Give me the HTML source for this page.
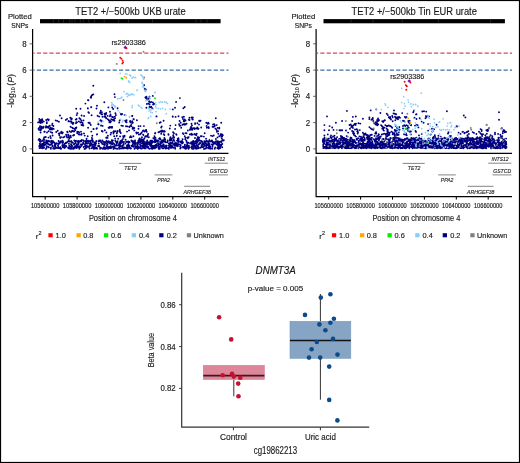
<!DOCTYPE html>
<html><head><meta charset="utf-8"><style>
html,body{margin:0;padding:0;background:#fff;}
svg{display:block;font-family:"Liberation Sans", sans-serif;will-change:transform;}
</style></head><body>
<svg width="520" height="463" viewBox="0 0 520 463" fill="#1a1a1a"><style>text{stroke:currentColor;stroke-width:0.15px;} svg{color:#1a1a1a}</style>
<rect x="0.5" y="0.5" width="519" height="462" fill="#fff" stroke="#000" stroke-width="1.2"/>
<path d="M158.7 148.8h0M219.3 143.8h0M121.5 148.4h0M206.6 125.9h0M59.4 143.6h0M218.8 143.0h0M160.4 144.3h0M95.4 148.2h0M90.5 145.0h0M158.6 140.9h0M110.7 146.1h0M97.1 134.2h0M94.6 144.3h0M145.2 146.8h0M42.7 148.3h0M140.1 148.3h0M155.6 142.1h0M129.5 147.8h0M131.0 148.4h0M213.2 142.3h0M219.7 146.4h0M58.6 141.0h0M92.9 147.9h0M206.1 146.2h0M204.7 133.3h0M193.3 141.2h0M71.7 147.6h0M170.2 146.7h0M50.8 138.0h0M139.8 141.6h0M122.2 146.0h0M86.3 143.4h0M115.5 148.4h0M104.1 147.8h0M86.5 145.6h0M112.6 146.9h0M40.4 144.6h0M158.1 143.0h0M173.2 144.7h0M126.9 145.4h0M141.8 132.5h0M89.5 148.5h0M52.1 141.4h0M68.3 134.8h0M96.2 141.6h0M107.2 142.6h0M148.1 134.0h0M215.2 147.4h0M85.0 144.0h0M178.0 143.1h0M170.6 144.5h0M69.2 148.6h0M219.1 142.4h0M88.1 127.8h0M64.5 136.8h0M160.1 145.1h0M208.6 145.7h0M186.3 147.5h0M98.7 141.1h0M215.1 143.8h0M113.9 146.4h0M84.5 148.9h0M73.8 148.7h0M154.2 141.8h0M76.9 144.3h0M89.1 146.8h0M164.4 138.0h0M217.7 144.7h0M196.0 143.3h0M109.3 148.0h0M187.2 142.5h0M139.1 139.5h0M217.6 144.6h0M144.1 144.6h0M104.5 148.9h0M120.2 146.3h0M112.3 141.3h0M129.3 145.7h0M76.4 146.5h0M148.8 137.3h0M132.8 144.8h0M192.1 142.5h0M220.2 147.4h0M152.8 145.8h0M39.6 145.3h0M113.4 143.1h0M173.7 139.8h0M129.4 142.2h0M158.0 145.4h0M154.5 140.9h0M182.6 139.3h0M188.6 145.9h0M87.6 141.4h0M138.9 141.8h0M127.9 148.5h0M132.6 145.3h0M104.2 148.7h0M132.1 141.2h0M112.8 143.7h0M77.3 141.3h0M88.4 141.8h0M135.0 144.5h0M174.2 143.3h0M169.9 146.8h0M150.9 144.1h0M70.6 135.7h0M99.5 140.7h0M168.7 148.7h0M204.0 146.2h0M118.2 138.8h0M73.8 147.5h0M217.6 141.1h0M172.6 146.7h0M135.6 147.7h0M170.3 142.5h0M83.1 142.8h0M95.1 145.5h0M129.3 147.3h0M49.2 141.3h0M78.7 142.9h0M188.5 142.7h0M101.8 148.1h0M166.1 145.5h0M129.8 147.5h0M81.5 144.8h0M145.4 142.8h0M99.6 141.1h0M221.5 142.1h0M196.4 145.6h0M145.5 145.5h0M200.5 147.8h0M206.7 147.7h0M161.0 145.7h0M62.9 141.7h0M205.3 148.4h0M193.3 146.6h0M60.5 148.7h0M156.0 141.3h0M194.2 145.6h0M154.8 142.2h0M83.6 140.9h0M147.4 143.7h0M141.8 148.4h0M103.8 147.2h0M200.5 143.2h0M169.9 140.5h0M177.0 140.6h0M66.7 136.2h0M195.4 148.1h0M188.2 145.7h0M219.7 144.4h0M120.4 145.5h0M168.9 148.7h0M135.2 142.1h0M54.7 145.6h0M173.4 147.8h0M184.8 136.2h0M94.7 146.8h0M141.2 146.0h0M182.8 143.1h0M58.2 145.1h0M220.3 141.8h0M167.7 141.2h0M191.6 147.6h0M107.0 148.1h0M102.4 148.5h0M188.5 146.2h0M93.7 146.1h0M176.4 144.4h0M66.3 146.3h0M99.1 140.5h0M127.0 131.6h0M216.9 131.8h0M208.2 148.0h0M135.1 140.4h0M182.9 142.5h0M105.3 142.1h0M112.9 140.5h0M136.6 147.6h0M165.1 141.2h0M72.9 142.7h0M48.2 144.2h0M87.8 146.7h0M155.0 148.2h0M52.4 142.1h0M70.8 148.8h0M106.5 140.8h0M91.1 142.9h0M197.8 145.3h0M163.0 140.8h0M185.5 137.8h0M222.2 147.2h0M176.0 144.2h0M128.4 141.4h0M185.1 148.6h0M195.2 147.3h0M93.9 148.9h0M61.0 141.3h0M176.0 143.8h0M144.0 144.4h0M138.5 128.8h0M113.9 146.3h0M94.4 143.9h0M139.9 147.7h0M155.8 140.1h0M142.8 145.5h0M210.9 141.6h0M203.9 136.6h0M109.4 142.1h0M107.4 144.6h0M100.8 147.9h0M104.1 148.7h0M70.6 141.6h0M147.2 140.4h0M86.3 142.6h0M165.9 142.3h0M128.1 144.7h0M217.3 148.1h0M62.8 147.2h0M43.8 144.8h0M213.7 142.7h0M192.1 143.7h0M221.7 144.3h0M102.6 125.9h0M57.9 145.3h0M162.2 146.6h0M90.2 142.1h0M196.4 141.5h0M55.0 143.2h0M93.0 141.2h0M60.3 148.2h0M109.9 147.4h0M134.6 141.3h0M221.0 144.7h0M203.2 147.1h0M178.4 144.7h0M40.6 141.9h0M208.9 146.9h0M138.2 142.4h0M193.6 146.6h0M168.6 147.8h0M74.8 143.8h0M215.2 143.7h0M66.3 146.5h0M166.6 147.1h0M106.5 146.0h0M150.2 141.4h0M166.4 148.4h0M98.8 143.4h0M188.0 146.4h0M129.6 147.8h0M64.7 148.1h0M137.9 144.1h0M164.7 147.2h0M143.1 145.3h0M39.8 146.3h0M151.9 147.0h0M163.9 146.2h0M149.3 148.7h0M99.5 146.8h0M180.3 148.5h0M53.2 148.2h0M97.2 148.5h0M44.7 145.5h0M210.3 146.8h0M163.7 144.5h0M98.1 146.0h0M186.5 141.7h0M150.2 145.5h0M163.6 144.4h0M142.6 145.5h0M203.8 144.2h0M48.9 147.4h0M78.5 144.2h0M85.0 144.4h0M125.8 148.0h0M107.5 144.3h0M139.0 140.5h0M164.6 146.3h0M164.2 141.1h0M65.0 147.3h0M193.4 146.2h0M202.1 141.6h0M109.0 147.9h0M149.3 143.2h0M185.7 148.8h0M213.8 142.1h0M108.6 141.4h0M123.3 142.9h0M116.5 145.5h0M150.2 144.9h0M45.9 148.9h0M46.7 147.7h0M132.2 146.6h0M219.5 141.9h0M186.2 147.1h0M187.3 144.1h0M104.6 142.3h0M207.1 141.4h0M102.5 140.4h0M180.7 145.2h0M108.1 141.9h0M119.9 143.5h0M134.2 143.2h0M202.6 143.4h0M128.4 142.8h0M217.9 141.2h0M109.3 147.6h0M170.5 146.0h0M217.0 142.2h0M123.6 144.7h0M180.9 147.5h0M119.9 144.0h0M209.1 147.8h0M108.0 148.7h0M52.7 142.4h0M161.4 146.7h0M67.5 137.4h0M212.7 145.5h0M155.3 132.9h0M137.7 148.9h0M186.5 133.3h0M160.5 146.9h0M181.2 127.7h0M71.2 144.5h0M117.4 130.9h0M172.0 143.0h0M158.9 146.8h0M182.0 143.4h0M110.0 143.4h0M126.9 147.1h0M41.2 146.4h0M90.0 143.8h0M220.0 146.2h0M137.1 144.6h0M115.6 145.5h0M110.4 141.9h0M105.1 144.1h0M194.0 142.5h0M173.1 147.7h0M85.8 146.5h0M124.8 147.8h0M85.4 142.1h0M137.6 145.2h0M199.0 144.2h0M110.8 143.6h0M53.2 148.5h0M176.0 143.1h0M147.4 144.3h0M52.6 145.6h0M91.4 140.5h0M104.5 147.2h0M169.2 144.3h0M55.3 147.4h0M124.0 142.0h0M147.7 142.5h0M85.8 141.8h0M96.9 128.3h0M154.5 141.6h0M155.2 147.1h0M132.2 141.2h0M168.9 145.7h0M208.4 142.8h0M85.7 147.9h0M76.0 145.8h0M127.5 146.6h0M156.2 141.0h0M131.3 126.3h0M180.1 146.6h0M56.9 148.0h0M141.7 148.5h0M78.3 143.8h0M208.6 148.3h0M163.4 145.3h0M120.1 143.0h0M73.9 144.4h0M75.2 141.4h0M219.1 148.5h0M205.2 141.8h0M71.4 141.2h0M91.4 144.6h0M220.8 145.6h0M221.2 136.8h0M157.6 141.2h0M125.4 143.6h0M206.0 145.3h0M147.0 147.6h0M147.1 146.8h0M197.7 139.1h0M115.2 138.6h0M144.6 144.0h0M41.6 146.2h0M106.6 143.5h0M145.9 143.5h0M194.5 144.6h0M187.7 147.5h0M98.6 141.2h0M66.2 146.2h0M195.3 148.6h0M50.6 141.9h0M87.7 143.6h0M144.3 148.3h0M70.3 146.9h0M54.3 142.7h0M87.2 146.5h0M127.2 146.5h0M199.3 137.6h0M52.8 141.0h0M196.7 145.1h0M105.8 148.7h0M96.9 134.6h0M46.5 143.2h0M199.2 140.6h0M75.2 147.8h0M146.7 146.6h0M75.0 140.7h0M100.5 140.5h0M79.3 148.8h0M219.1 146.7h0M140.3 142.4h0M54.5 148.7h0M135.9 146.4h0M129.0 145.6h0M158.9 147.3h0M164.6 140.9h0M117.2 148.7h0M42.8 143.6h0M160.9 145.2h0M168.9 148.3h0M116.1 142.0h0M213.7 143.5h0M140.0 144.8h0M163.9 141.6h0M121.6 141.8h0M163.0 144.1h0M186.8 146.7h0M95.9 148.5h0M123.0 147.2h0M120.5 141.0h0M166.8 145.6h0M119.3 145.9h0M183.0 142.5h0M175.2 148.8h0M101.1 142.2h0M198.7 148.2h0M61.0 142.1h0M62.6 140.7h0M150.5 140.7h0M167.6 142.4h0M131.5 145.8h0M92.9 144.4h0M123.7 148.4h0M75.5 142.7h0M152.3 146.8h0M111.4 147.6h0M220.6 135.0h0M39.3 146.3h0M130.4 148.6h0M107.0 141.4h0M133.2 143.7h0M146.1 144.2h0M89.7 146.2h0M54.9 144.6h0M198.7 139.8h0M220.6 145.7h0M81.3 144.5h0M132.8 141.0h0M218.6 148.9h0M50.3 136.3h0M51.1 144.3h0M100.1 148.8h0M77.8 146.4h0M140.0 146.9h0M77.7 147.1h0M140.9 146.1h0M113.6 147.3h0M156.5 147.3h0M71.4 148.2h0M184.9 147.9h0M191.9 148.5h0M91.5 143.9h0M120.2 141.7h0M60.9 142.5h0M60.3 137.9h0M79.3 146.7h0M116.6 148.6h0M85.2 145.9h0M122.4 141.8h0M151.9 145.7h0M117.2 141.8h0M200.0 142.8h0M59.9 142.1h0M201.5 141.0h0M209.8 145.9h0M122.7 145.5h0M125.5 147.8h0M69.8 141.5h0M169.5 145.0h0M154.1 148.2h0M151.3 143.4h0M70.5 146.5h0M117.6 141.3h0M207.2 141.3h0M51.7 144.3h0M219.8 147.5h0M104.3 144.2h0M198.7 138.9h0M154.1 146.0h0M61.1 148.7h0M88.7 140.7h0M77.6 141.7h0M99.0 145.8h0M48.1 141.0h0M40.3 147.7h0M106.7 147.9h0M80.9 144.5h0M204.3 141.2h0M138.4 141.5h0M145.6 144.5h0M104.3 148.3h0M76.7 148.0h0M77.2 145.8h0M48.0 143.7h0M163.4 148.3h0M157.1 146.0h0M144.5 141.6h0M219.8 146.2h0M127.1 148.5h0M106.3 147.7h0M51.5 142.6h0M143.1 142.8h0M202.4 144.8h0M115.3 148.4h0M159.8 148.8h0M72.1 146.2h0M192.1 146.3h0M128.5 146.6h0M155.3 145.2h0M209.1 145.9h0M159.0 144.0h0M150.7 146.1h0M103.5 144.4h0M143.0 145.6h0M121.4 125.6h0M83.6 147.0h0M175.0 144.6h0M143.6 141.1h0M184.9 144.7h0M41.4 144.1h0M175.2 143.9h0M48.5 137.6h0M119.3 143.2h0M94.7 142.4h0M104.5 145.1h0M191.8 143.4h0M217.0 144.7h0M40.5 141.4h0M49.9 144.5h0M220.2 148.0h0M87.1 146.3h0M72.1 142.6h0M95.5 145.2h0M123.0 147.4h0M152.0 143.0h0M183.5 147.6h0M40.2 148.1h0M108.7 142.6h0M152.4 141.9h0M120.2 148.5h0M171.5 145.6h0M120.4 145.1h0M195.5 147.2h0M218.0 145.6h0M206.5 147.6h0M148.7 142.3h0M141.1 148.5h0M209.3 141.6h0M120.0 148.2h0M48.9 141.0h0M124.4 147.5h0M138.3 141.3h0M175.0 147.6h0M65.8 142.7h0M80.3 147.3h0M122.3 148.2h0M57.9 147.6h0M107.7 146.5h0M41.6 145.1h0M174.9 143.9h0M96.5 147.6h0M128.8 145.0h0M137.7 146.2h0M190.2 143.5h0M155.6 146.4h0M147.7 144.8h0M111.3 147.0h0M83.2 143.8h0M84.0 133.4h0M178.4 140.8h0M102.2 143.8h0M160.2 142.2h0M195.6 147.0h0M111.9 143.2h0M71.2 141.2h0M215.1 142.2h0M193.1 148.3h0M151.2 142.8h0M92.9 142.0h0M56.1 147.6h0M136.9 120.3h0M177.3 145.2h0M138.5 142.9h0M217.6 147.4h0M68.1 147.8h0M216.7 143.9h0M62.8 146.0h0M184.7 146.2h0M64.2 147.4h0M82.1 144.7h0M208.3 144.3h0M142.6 145.8h0M64.3 146.1h0M50.9 144.4h0M201.8 147.1h0M205.7 142.9h0M46.7 147.5h0M185.3 139.2h0M59.2 148.0h0M170.9 144.0h0M158.6 147.7h0M107.2 142.5h0M114.5 144.2h0M76.8 146.9h0M42.8 145.0h0M152.2 148.4h0M188.6 148.8h0M117.9 145.4h0M196.8 143.3h0M205.2 143.1h0M47.7 143.0h0M135.0 145.9h0M193.4 143.4h0M119.1 148.7h0M62.8 144.9h0M43.9 142.1h0M218.9 144.9h0M149.6 144.3h0M162.7 142.1h0M139.0 141.1h0M135.0 142.6h0M119.3 143.8h0M197.9 148.1h0M58.4 148.1h0M159.0 144.5h0M206.2 146.3h0M151.2 144.1h0M110.9 143.8h0M89.8 145.2h0M88.3 146.4h0M217.2 144.3h0M88.3 142.9h0M122.6 147.3h0M132.6 142.4h0M161.3 143.0h0M148.5 143.5h0M95.2 147.6h0M217.5 137.4h0M86.6 138.7h0M138.3 148.0h0M222.1 136.4h0M120.8 133.0h0M138.5 140.6h0M137.7 142.5h0M50.9 148.8h0M87.8 141.2h0M142.8 143.0h0M150.1 143.0h0M209.3 143.7h0M136.2 143.1h0M73.5 147.9h0M46.8 146.3h0M183.0 147.6h0M197.8 145.9h0M165.6 146.6h0M63.7 146.8h0M196.1 140.9h0M43.0 146.5h0M126.1 142.0h0M73.0 148.7h0M155.8 145.2h0M194.8 145.9h0M206.1 138.7h0M81.1 145.9h0M198.2 147.0h0M86.3 140.5h0M134.6 143.1h0M203.9 148.9h0M96.3 141.0h0M221.8 138.4h0M165.5 148.6h0M180.0 141.5h0M63.2 142.1h0M201.6 145.2h0M133.7 146.8h0M144.5 145.8h0M157.0 141.3h0M118.5 145.3h0M177.5 140.8h0M65.0 146.4h0M152.1 147.2h0M88.8 146.6h0M191.3 142.2h0M67.1 142.2h0M212.1 148.7h0M160.3 139.2h0M122.3 146.7h0M186.4 140.6h0M44.1 147.8h0M179.6 144.5h0M193.4 148.7h0M186.4 148.2h0M162.5 148.3h0M151.1 148.5h0M52.4 146.3h0M95.5 143.6h0M195.1 147.7h0M154.2 147.0h0M149.7 142.3h0M167.7 140.4h0M191.6 146.3h0M39.9 141.4h0M183.0 146.8h0M68.6 147.2h0M69.3 141.1h0M195.8 146.2h0M205.7 148.6h0M78.6 141.0h0M96.0 143.5h0M132.9 145.0h0M54.3 146.9h0M135.1 144.2h0M40.8 144.9h0M138.2 146.8h0M78.3 141.1h0M87.5 146.4h0M44.3 142.2h0M218.4 148.2h0M122.0 146.8h0M198.6 147.2h0M205.3 143.0h0M161.6 140.5h0M44.3 144.8h0M192.7 148.8h0M64.4 147.7h0M206.7 144.3h0M74.8 146.5h0M86.5 141.4h0M136.3 146.5h0M72.0 145.5h0M204.5 148.7h0M48.5 147.0h0M111.8 140.3h0M147.9 135.0h0M50.9 147.8h0M114.4 146.6h0M47.1 142.9h0M214.7 148.7h0M143.5 144.5h0M136.9 148.1h0M127.2 141.7h0M202.1 142.1h0M192.9 143.9h0M126.1 141.9h0M142.9 130.9h0M217.0 141.4h0M50.6 144.8h0M133.0 141.9h0M145.9 145.1h0M211.8 140.4h0M142.9 143.6h0M58.5 143.8h0M186.8 145.3h0M146.6 142.4h0M204.2 142.4h0M212.3 144.5h0M202.0 146.5h0M147.2 136.7h0M62.8 143.0h0M170.4 144.5h0M109.4 147.0h0M91.6 148.2h0M153.7 147.0h0M174.8 145.7h0M155.8 144.9h0M187.3 143.2h0M191.9 144.1h0M210.2 148.7h0M45.7 144.3h0M152.4 148.8h0M199.4 140.6h0M102.5 140.7h0M43.2 145.5h0M221.3 145.5h0M71.0 144.3h0M152.8 141.7h0M79.8 141.5h0M217.2 141.7h0M150.1 145.4h0M132.8 146.0h0M208.8 141.8h0M176.6 145.2h0M192.3 144.6h0M131.4 140.4h0M176.3 145.9h0M168.9 143.6h0M91.5 144.2h0M201.6 147.0h0M42.7 146.7h0M199.9 140.4h0M185.9 148.8h0M189.6 147.6h0M109.5 148.1h0M139.8 142.2h0M49.6 144.9h0M175.1 143.8h0M59.3 135.3h0M210.8 148.2h0M189.0 145.9h0M117.4 142.7h0M119.0 147.6h0M48.7 126.4h0M51.3 140.6h0M144.7 147.9h0M171.0 148.1h0M76.5 147.2h0M152.1 140.7h0M180.9 141.6h0M64.4 144.7h0M168.2 148.3h0M106.6 141.1h0M120.4 145.3h0M196.7 133.7h0M53.9 142.3h0M207.4 144.9h0M71.3 148.7h0M90.1 145.5h0M138.4 140.6h0M207.9 145.6h0M58.3 146.8h0M172.3 143.0h0M43.9 143.5h0M92.3 135.8h0M205.2 145.1h0M146.3 146.4h0M201.1 141.1h0M178.3 142.0h0M121.0 143.3h0M116.7 136.1h0M221.5 141.1h0M181.2 142.4h0M102.9 148.6h0M209.4 144.1h0M151.4 147.7h0M143.6 143.2h0M218.2 143.1h0M182.0 140.9h0M114.6 147.4h0M111.1 132.7h0M204.1 144.6h0M156.9 140.7h0M111.1 142.7h0M186.5 147.8h0M155.3 146.6h0M85.9 147.9h0M162.3 148.2h0M212.7 142.2h0M46.6 141.9h0M56.7 143.3h0M47.0 141.9h0M59.9 133.1h0M217.9 141.9h0M68.2 141.4h0M197.8 141.8h0M112.0 142.1h0M161.6 141.6h0M209.8 148.6h0M41.8 148.1h0M55.0 148.6h0M90.6 140.9h0M212.7 144.9h0M60.5 147.2h0M156.7 144.2h0M201.5 145.9h0M169.2 145.2h0M162.3 145.7h0M178.4 141.0h0M64.8 143.7h0M81.2 146.0h0M62.3 145.2h0M153.5 148.4h0M93.2 147.2h0M77.2 147.1h0M180.7 142.4h0M55.6 146.8h0M79.2 147.7h0M161.4 141.7h0M185.3 146.6h0M192.7 142.5h0M143.0 147.0h0M208.4 142.9h0M41.9 140.9h0M185.6 146.7h0M205.7 143.0h0M165.3 142.0h0M73.8 131.2h0M101.2 142.1h0M102.0 143.0h0M212.5 146.8h0M103.8 142.0h0M194.0 144.9h0M102.5 148.7h0M148.1 147.7h0M177.4 143.9h0M194.6 143.6h0M51.5 143.9h0M193.5 140.9h0M129.6 142.2h0M207.9 141.8h0M78.4 144.1h0M45.6 142.2h0M85.1 146.3h0M63.5 146.2h0M90.0 141.1h0M144.5 146.6h0M92.2 146.2h0M66.3 143.1h0M211.6 144.4h0M69.9 148.6h0M146.0 146.4h0M135.0 145.4h0M59.0 142.9h0M62.7 146.8h0M104.0 142.8h0M134.5 148.7h0M120.4 142.0h0M175.9 142.6h0M77.4 146.7h0M69.3 145.6h0M214.2 143.3h0M108.7 141.1h0M222.3 143.9h0M128.4 144.5h0M55.3 145.5h0M159.1 147.1h0M212.9 144.5h0M52.3 143.1h0M79.0 146.7h0M86.7 143.6h0M177.7 146.3h0M93.6 147.4h0M85.7 148.5h0M112.3 144.6h0M39.5 148.1h0M68.7 148.3h0M182.2 143.4h0M136.4 147.3h0M113.5 148.9h0M115.3 140.7h0M192.9 141.1h0M111.6 147.5h0M55.8 144.3h0M195.4 147.3h0M148.3 147.0h0M92.7 140.6h0M66.0 145.8h0M172.0 147.0h0M196.8 148.7h0M79.1 146.1h0M68.9 143.7h0M110.2 143.5h0M107.9 135.8h0M171.0 146.5h0M195.2 141.6h0M152.3 146.5h0M196.3 147.6h0M145.4 148.4h0M86.7 147.4h0M197.4 146.0h0M39.8 143.6h0M182.9 133.2h0M116.7 143.7h0M128.2 145.2h0M110.9 148.3h0M172.4 141.1h0M143.3 147.8h0M199.3 143.7h0M59.7 143.0h0M109.4 147.0h0M41.0 121.3h0M39.3 122.3h0M38.1 122.4h0M48.5 120.2h0M47.7 119.3h0M48.8 119.7h0M46.2 120.0h0M39.7 127.8h0M38.5 128.7h0M40.9 119.9h0M42.5 120.7h0M39.3 119.0h0M41.5 120.0h0M40.9 126.7h0M39.4 127.6h0M91.9 137.9h0M92.4 139.1h0M79.1 132.5h0M79.7 134.5h0M81.4 134.7h0M81.7 134.0h0M72.6 130.9h0M72.1 131.3h0M72.0 130.9h0M74.3 131.4h0M45.8 137.0h0M44.4 137.2h0M78.7 134.4h0M50.4 129.6h0M52.0 129.6h0M50.6 127.7h0M51.0 129.1h0M68.6 135.5h0M66.1 134.8h0M67.1 137.5h0M66.4 135.2h0M88.7 140.7h0M87.9 141.4h0M86.5 140.8h0M52.6 135.5h0M92.4 140.6h0M92.3 140.6h0M92.3 140.3h0M70.9 137.2h0M69.3 136.9h0M69.0 137.3h0M91.3 131.6h0M40.9 129.9h0M40.3 130.2h0M39.0 129.7h0M68.6 140.1h0M69.4 138.6h0M81.2 140.4h0M80.7 140.7h0M81.2 141.2h0M81.8 139.9h0M44.0 139.7h0M44.0 137.9h0M44.5 139.9h0M42.6 140.7h0M40.9 128.9h0M41.6 128.8h0M74.3 140.5h0M72.2 142.1h0M76.1 140.9h0M62.8 132.6h0M61.4 131.6h0M62.4 133.3h0M62.0 132.5h0M83.4 140.4h0M85.9 142.8h0M85.0 141.3h0M87.7 141.2h0M87.7 136.2h0M84.7 135.6h0M57.7 130.8h0M56.2 132.0h0M39.2 138.9h0M40.4 139.8h0M38.6 139.9h0M39.1 140.0h0M93.4 128.9h0M93.7 129.1h0M73.1 135.5h0M74.1 135.0h0M61.1 137.1h0M63.1 137.4h0M60.2 137.2h0M46.5 140.5h0M43.6 139.2h0M82.5 122.6h0M80.9 122.4h0M82.8 123.9h0M71.8 119.0h0M71.7 118.5h0M71.2 119.2h0M71.5 119.5h0M75.7 119.6h0M76.6 119.0h0M76.5 119.2h0M76.3 119.6h0M81.4 120.8h0M52.2 125.0h0M53.4 126.0h0M49.8 125.7h0M88.5 122.8h0M89.7 122.7h0M89.8 123.4h0M90.8 124.9h0M75.8 127.8h0M76.4 127.5h0M76.0 128.3h0M113.9 131.9h0M113.7 132.2h0M115.3 131.3h0M113.8 131.3h0M96.5 128.7h0M126.6 122.3h0M110.6 134.4h0M113.5 133.6h0M110.6 134.5h0M105.0 115.0h0M101.8 131.0h0M102.6 131.5h0M125.2 120.7h0M126.6 120.2h0M126.3 120.6h0M130.2 120.9h0M119.8 129.6h0M119.6 130.9h0M117.4 131.2h0M116.8 133.3h0M117.3 132.0h0M113.2 132.0h0M107.6 115.9h0M104.5 113.7h0M101.6 114.2h0M102.1 114.3h0M100.1 113.3h0M120.1 132.0h0M119.9 131.0h0M119.4 131.0h0M110.4 122.4h0M109.4 122.2h0M111.0 121.3h0M114.4 120.7h0M109.7 120.4h0M112.8 119.7h0M123.7 137.5h0M123.1 136.1h0M123.4 137.2h0M111.3 119.1h0M120.1 136.4h0M124.7 136.0h0M98.6 124.2h0M98.2 124.2h0M101.0 125.5h0M114.2 136.2h0M106.2 112.9h0M105.7 113.9h0M106.0 114.1h0M100.4 120.5h0M100.7 120.3h0M101.7 121.0h0M127.5 126.4h0M126.0 126.2h0M122.9 125.9h0M124.5 135.8h0M124.6 114.9h0M126.0 122.0h0M115.0 118.2h0M108.6 127.7h0M110.2 127.3h0M110.7 127.2h0M112.2 126.9h0M125.6 139.8h0M116.8 135.7h0M106.2 137.7h0M106.6 137.4h0M107.6 137.9h0M109.7 127.8h0M109.7 126.9h0M112.0 127.8h0M111.2 127.0h0M106.4 132.5h0M104.8 130.3h0M121.4 114.5h0M121.0 113.9h0M120.9 114.3h0M122.1 114.0h0M102.5 116.8h0M104.5 116.8h0M105.8 117.5h0M112.3 117.0h0M109.9 116.2h0M110.7 115.9h0M122.7 139.3h0M122.1 139.9h0M173.5 137.1h0M162.9 140.3h0M164.7 140.4h0M164.7 139.8h0M164.4 139.2h0M165.2 139.4h0M147.0 141.2h0M151.2 142.3h0M151.6 140.8h0M173.1 132.3h0M174.0 133.3h0M176.5 134.8h0M161.2 133.7h0M161.9 131.7h0M173.1 137.3h0M173.9 136.9h0M141.9 140.7h0M141.9 139.9h0M170.7 138.4h0M170.4 138.7h0M171.9 138.8h0M174.0 137.8h0M170.2 138.2h0M170.5 137.2h0M153.3 138.1h0M154.5 139.4h0M155.6 137.9h0M141.3 140.3h0M139.9 138.7h0M155.0 133.4h0M129.9 137.2h0M133.4 136.3h0M130.7 136.3h0M131.5 137.2h0M176.1 134.1h0M173.2 135.3h0M141.2 143.5h0M139.1 142.8h0M140.9 141.8h0M142.6 142.1h0M143.1 134.6h0M143.4 135.1h0M177.7 138.7h0M178.4 138.2h0M178.7 139.1h0M177.8 139.4h0M138.9 134.6h0M140.2 134.2h0M140.7 133.7h0M140.9 133.6h0M145.6 136.2h0M147.2 135.8h0M145.2 136.7h0M143.4 139.7h0M144.4 138.5h0M141.1 139.4h0M144.2 138.7h0M154.7 137.5h0M154.5 136.2h0M159.1 138.7h0M159.9 138.3h0M140.2 141.0h0M138.1 132.8h0M136.9 132.7h0M136.3 132.4h0M136.6 133.5h0M157.6 140.4h0M157.6 140.5h0M156.9 140.3h0M155.7 140.2h0M163.8 134.3h0M168.5 134.8h0M168.4 134.1h0M164.4 135.1h0M169.9 139.5h0M169.8 140.0h0M171.2 140.0h0M174.3 140.9h0M139.5 138.4h0M142.0 137.3h0M141.7 139.1h0M132.9 127.4h0M133.0 128.7h0M132.6 128.7h0M146.7 131.8h0M144.5 131.6h0M145.8 130.9h0M144.7 131.1h0M143.3 130.5h0M146.2 129.9h0M145.4 130.4h0M199.0 124.6h0M199.1 120.9h0M199.9 121.3h0M199.2 120.8h0M200.6 120.6h0M187.8 138.2h0M187.5 137.8h0M187.4 137.6h0M188.7 137.1h0M190.4 129.5h0M191.7 129.6h0M189.9 129.7h0M187.9 130.5h0M185.4 124.3h0M184.0 124.0h0M184.9 124.7h0M182.8 124.7h0M198.7 138.0h0M198.2 137.2h0M197.7 137.3h0M197.4 123.3h0M195.1 123.9h0M195.1 123.3h0M192.2 119.0h0M192.8 119.5h0M188.9 119.7h0M189.5 120.0h0M197.7 140.6h0M196.9 139.3h0M199.0 139.4h0M194.7 133.9h0M192.8 134.5h0M196.3 135.2h0M195.0 134.6h0M191.5 134.7h0M191.4 133.7h0M189.8 134.4h0M190.5 128.2h0M192.2 129.8h0M192.0 128.2h0M184.3 121.4h0M183.8 120.6h0M183.7 121.3h0M180.5 125.6h0M179.6 125.8h0M182.5 124.7h0M193.6 128.3h0M196.1 128.5h0M194.4 128.1h0M194.5 129.0h0M185.4 133.1h0M192.8 117.4h0M189.5 117.8h0M191.7 117.4h0M183.4 134.1h0M198.1 129.0h0M196.2 128.6h0M198.5 128.6h0M197.6 128.4h0M195.0 138.0h0M211.0 135.6h0M213.7 135.5h0M212.4 136.1h0M219.2 136.3h0M201.8 136.3h0M200.7 136.1h0M218.3 133.7h0M216.1 141.3h0M206.4 141.0h0M209.4 140.1h0M209.3 140.2h0M209.0 141.3h0M215.9 139.0h0M216.4 129.6h0M217.1 130.9h0M218.1 131.1h0M212.0 140.8h0M211.1 140.9h0M212.2 141.1h0M220.8 134.3h0M221.8 134.3h0M222.8 135.3h0M222.2 135.6h0M223.8 140.2h0M222.6 140.3h0M223.2 140.6h0M222.5 140.2h0M153.1 104.5h0M154.0 103.6h0M154.1 103.9h0M153.7 104.1h0M146.7 97.8h0M145.4 97.5h0M146.1 98.2h0M149.5 96.8h0M150.8 107.1h0M149.5 106.9h0M150.2 107.3h0M149.2 98.3h0M148.9 98.4h0M148.4 99.1h0M93.3 85.8h0M92.2 95.0h0M93.3 94.4h0M91.1 97.7h0M87.9 100.1h0M85.4 103.6h0M114.5 94.2h0M114.9 97.1h0M104.3 102.3h0M97.0 105.8h0M91.1 107.2h0M87.9 108.5h0M108.4 107.4h0M112.2 107.4h0M113.2 109.0h0M117.6 108.3h0M100.8 110.6h0M101.9 112.3h0M100.3 112.3h0M101.4 113.9h0M96.5 108.5h0M88.4 112.3h0M84.1 116.0h0M91.6 115.2h0M97.6 115.8h0M99.2 116.6h0M105.1 116.6h0M106.2 118.2h0M107.8 119.3h0M108.9 120.4h0M110.0 111.7h0M110.5 114.4h0M110.0 116.0h0M115.4 113.3h0M115.9 115.0h0M114.9 116.6h0M113.2 117.1h0M114.3 118.7h0M113.2 120.4h0M119.7 120.4h0M119.2 122.5h0M132.1 116.0h0M83.5 120.4h0M42.2 119.3h0M40.0 122.0h0M40.6 123.0h0M60.0 115.5h0M61.6 118.2h0M55.7 120.4h0M57.3 120.9h0M58.9 121.7h0M52.4 123.6h0M70.3 117.7h0M68.6 120.9h0M70.3 121.4h0M71.9 122.5h0M73.5 123.0h0M76.2 108.7h0M80.5 108.7h0M77.3 113.3h0M76.7 115.0h0M81.6 115.5h0M79.4 118.2h0M80.5 119.3h0M78.9 121.4h0M80.5 122.5h0M88.4 100.2h0M91.3 96.2h0M90.7 97.3h0M87.8 108.3h0M91.3 107.1h0M89.0 112.9h0M144.2 85.1h0M144.7 88.9h0M145.3 90.0h0M145.8 89.4h0M146.4 96.8h0M152.8 95.9h0M147.4 99.7h0M149.1 101.3h0M150.1 102.4h0M151.2 101.9h0M152.8 102.4h0M148.5 103.5h0M146.9 104.0h0M149.6 104.6h0M151.2 106.7h0M152.3 108.3h0M146.4 107.8h0M176.1 101.9h0M175.0 107.8h0M172.8 109.4h0M156.6 116.4h0M172.8 116.7h0M132.3 115.9h0M133.4 119.1h0M179.9 98.1h0M183.4 108.3h0M184.7 107.0h0M178.5 116.2h0M182.3 117.3h0M183.9 116.7h0M182.9 118.9h0M184.5 119.4h0M185.6 120.5h0M179.6 121.0h0M180.7 122.7h0M179.1 124.3h0M186.6 123.7h0M191.5 123.7h0M192.0 125.4h0M191.0 127.0h0M197.4 127.5h0M201.2 127.5h0M215.8 118.3h0M221.2 122.7h0M130.0 121.7h0M130.9 122.2h0M132.3 121.3h0M132.8 122.7h0M131.4 124.1h0M130.4 125.6h0M129.4 127.0h0M133.8 119.3h0M132.3 116.0h0M134.3 128.0h0M134.3 130.4h0M129.0 130.4h0M138.6 126.1h0M140.5 126.1h0M143.9 126.1h0M156.4 116.4h0M159.7 122.7h0M160.7 122.2h0M163.6 120.8h0M161.7 126.5h0M161.2 127.5h0M172.7 116.4h0M175.6 116.9h0M170.3 125.6h0M175.6 125.1h0M169.8 128.5h0M175.1 128.9h0M207.7 123.7h0M208.8 123.5h0M214.3 124.3h0M206.3 122.7h0M214.8 125.4h0M214.6 126.3h0M216.7 125.1h0M213.1 124.5h0M208.2 122.6h0M208.7 127.5h0M208.6 126.9h0M212.6 126.8h0M219.3 128.5h0M208.8 128.1h0M206.9 127.8h0M217.6 127.9h0M219.3 127.8h0M215.4 128.6h0M213.7 126.9h0M160.7 131.2h0M159.7 131.7h0M164.8 131.5h0M163.5 131.5h0M162.0 130.5h0M158.5 132.2h0M164.0 130.9h0M47.9 127.5h0M48.3 126.6h0M48.0 127.2h0M46.3 127.0h0M53.7 128.9h0M52.7 128.4h0M52.1 128.1h0M45.6 127.5h0M48.0 127.2h0M46.8 126.6h0M48.0 127.3h0M46.0 126.3h0M41.8 128.1h0M49.8 129.2h0M43.1 127.9h0M40.0 126.2h0M48.6 127.7h0M47.1 127.4h0M41.5 126.7h0M43.2 127.5h0M43.5 126.7h0M43.8 121.6h0M41.6 121.7h0M42.2 122.6h0M39.6 120.8h0M46.8 123.3h0M46.8 122.3h0M61.8 133.2h0M44.7 131.7h0M52.2 132.7h0M40.6 132.5h0M59.0 133.7h0M47.0 132.5h0M48.6 131.2h0M58.7 133.6h0M61.2 132.5h0M59.6 133.4h0M50.8 132.1h0M44.3 131.7h0M67.2 131.7h0M69.6 131.2h0M81.0 131.8h0M67.6 132.4h0M78.7 132.0h0M77.2 133.2h0M71.0 132.1h0M73.8 131.4h0M77.3 131.8h0M72.9 124.1h0M71.2 121.7h0M68.5 121.4h0M71.4 122.8h0M67.1 118.9h0M65.8 119.9h0M72.7 122.6h0M73.3 128.4h0M72.2 127.6h0M70.6 126.7h0M75.3 130.1h0M74.7 128.7h0M72.9 128.3h0M81.5 125.0h0M82.8 125.2h0M76.0 123.2h0M76.3 122.2h0M83.3 125.5h0M77.0 122.2h0" stroke="#000080" stroke-width="1.9" stroke-linecap="round"/>
<path d="M116.8 63.9h0M123.5 100.0h0M144.2 77.5h0M156.8 123.2h0" stroke="#808080" stroke-width="1.9" stroke-linecap="round"/>
<path d="M124.0 91.7h0M126.7 93.4h0M129.4 95.0h0M131.1 94.4h0M132.1 93.9h0M117.6 98.8h0M119.2 98.5h0M120.8 98.2h0M121.9 97.1h0M111.6 102.5h0M112.2 104.2h0M113.2 104.7h0M114.3 105.8h0M115.4 106.3h0M114.9 107.4h0M111.6 105.2h0M127.3 96.6h0M129.4 82.0h0M130.5 75.5h0M132.1 78.2h0M118.1 110.6h0M119.7 112.3h0M125.1 115.0h0M126.2 115.5h0M120.8 119.3h0M123.0 120.4h0M122.4 122.0h0M129.4 117.1h0M132.1 107.4h0M98.1 122.0h0M103.0 121.4h0M101.4 122.5h0M129.6 74.9h0M130.7 75.9h0M132.3 78.1h0M133.4 77.0h0M135.6 77.6h0M141.0 74.9h0M142.0 75.9h0M143.1 77.0h0M143.7 79.2h0M128.5 80.8h0M129.6 82.4h0M142.0 83.0h0M142.6 86.7h0M143.7 87.3h0M137.2 90.3h0M144.7 90.5h0M145.3 91.6h0M128.5 95.4h0M130.2 94.8h0M132.3 94.3h0M133.9 94.8h0M155.0 92.7h0M149.1 97.0h0M150.1 98.6h0M145.8 100.8h0M148.0 100.2h0M159.3 102.4h0M160.9 101.9h0M162.6 102.2h0M164.7 101.9h0M166.3 102.4h0M167.4 103.5h0M155.5 102.9h0M156.1 104.6h0M155.5 106.2h0M132.3 105.6h0M138.3 105.1h0M139.3 106.2h0M141.0 107.3h0M142.0 108.3h0M148.5 108.3h0M149.6 109.4h0M151.2 110.0h0M153.4 108.9h0M156.1 107.8h0M158.2 108.3h0M160.4 108.9h0M162.6 108.3h0M165.3 109.4h0M149.1 111.0h0M150.7 112.1h0M152.3 112.7h0M156.1 111.6h0M166.3 113.7h0M170.1 108.9h0M148.5 117.5h0M150.7 116.4h0M129.6 116.4h0M148.2 118.4h0M150.6 116.4h0M129.4 116.9h0M120.2 73.4h0M125.6 74.0h0M127.0 74.0h0M135.0 77.5h0M143.0 78.0h0M129.0 82.0h0M142.0 82.0h0M143.0 84.0h0M144.0 87.0h0M145.0 90.0h0M146.0 91.0h0M137.0 90.2h0M155.2 92.2h0M126.0 94.0h0M128.0 94.0h0" stroke="#87cefa" stroke-width="1.7" stroke-linecap="round"/>
<path d="M124.6 76.6h0M126.2 77.7h0" stroke="#ffa500" stroke-width="1.9" stroke-linecap="round"/>
<path d="M143.5 51.7h0M121.5 78.1h0M122.3 78.8h0M155.0 98.3h0" stroke="#00ee00" stroke-width="1.9" stroke-linecap="round"/>
<path d="M126.5 48.2h0M120.2 57.6h0M121.5 58.8h0M122.6 60.6h0M123.1 62.4h0M122.3 63.4h0" stroke="#ff0000" stroke-width="1.9" stroke-linecap="round"/>
<path d="M125.3 45.6l1.8 1.8l-1.8 1.8l-1.8 -1.8z" fill="#9400d3"/>
<path d="M498.6 148.1h0M338.6 143.1h0M446.0 142.5h0M434.5 147.1h0M402.1 141.2h0M505.7 145.2h0M404.7 148.1h0M328.0 145.6h0M392.8 145.4h0M426.0 148.2h0M382.7 143.6h0M506.5 146.9h0M487.1 143.1h0M489.5 142.2h0M388.0 135.4h0M352.6 143.3h0M407.8 143.8h0M492.9 139.9h0M388.0 139.2h0M407.7 138.8h0M456.0 146.6h0M382.6 147.1h0M489.8 138.9h0M379.9 143.5h0M415.6 142.0h0M431.0 146.7h0M417.0 144.5h0M336.8 143.2h0M489.7 140.9h0M333.8 146.1h0M364.6 147.9h0M419.0 147.2h0M361.7 146.1h0M454.7 145.2h0M354.6 147.8h0M498.4 141.1h0M326.9 140.1h0M351.9 141.5h0M393.8 137.9h0M350.8 145.4h0M436.0 147.8h0M384.9 144.3h0M463.7 139.1h0M461.8 143.5h0M409.8 141.9h0M381.1 144.3h0M483.7 142.8h0M395.2 147.3h0M499.3 142.5h0M400.1 143.1h0M348.8 148.1h0M352.6 142.2h0M416.4 137.6h0M505.7 144.3h0M369.1 142.3h0M470.0 146.2h0M400.7 148.3h0M329.5 147.5h0M456.0 147.6h0M356.4 146.6h0M418.7 145.7h0M440.9 139.0h0M499.9 146.1h0M417.0 148.0h0M399.8 146.9h0M340.2 146.5h0M418.4 144.6h0M376.2 146.5h0M326.5 147.6h0M379.2 143.9h0M325.9 144.7h0M412.3 142.7h0M336.6 145.1h0M494.8 140.8h0M358.3 144.9h0M408.1 146.3h0M345.4 147.8h0M479.2 138.3h0M450.2 141.9h0M465.8 145.6h0M388.7 140.3h0M372.4 144.0h0M498.4 137.7h0M476.6 146.5h0M412.8 144.5h0M447.8 144.8h0M473.2 145.3h0M506.3 144.6h0M335.3 139.1h0M504.6 147.4h0M377.4 141.8h0M448.1 143.5h0M343.6 138.4h0M461.8 143.5h0M454.4 139.1h0M407.7 144.8h0M505.8 144.9h0M349.6 148.1h0M432.3 147.5h0M416.7 144.7h0M453.5 143.5h0M409.8 146.7h0M460.0 140.7h0M479.5 142.4h0M397.0 138.1h0M439.6 144.1h0M453.7 144.2h0M472.9 138.5h0M457.0 139.0h0M485.5 140.1h0M463.9 140.9h0M430.7 140.2h0M348.3 144.4h0M369.6 144.1h0M360.7 148.0h0M323.6 139.8h0M443.9 145.7h0M447.0 146.1h0M415.4 147.8h0M461.5 140.9h0M467.1 141.7h0M467.6 147.7h0M352.9 144.1h0M377.2 143.1h0M500.6 143.3h0M393.2 139.4h0M379.7 143.9h0M421.9 148.0h0M474.4 142.1h0M469.2 144.9h0M477.4 142.2h0M394.8 139.6h0M469.6 145.7h0M365.8 146.5h0M374.0 147.8h0M473.4 145.2h0M381.5 144.2h0M353.6 145.9h0M487.3 146.0h0M440.5 146.7h0M341.3 146.9h0M447.6 145.3h0M469.1 140.2h0M439.3 140.0h0M385.9 138.0h0M415.3 138.4h0M459.4 140.3h0M494.9 133.1h0M376.6 141.8h0M390.5 147.0h0M498.9 144.0h0M487.1 138.3h0M346.3 145.3h0M389.0 139.8h0M462.9 143.3h0M366.5 146.4h0M375.3 147.2h0M381.1 147.9h0M349.1 146.3h0M400.2 145.4h0M368.3 142.5h0M384.8 140.6h0M334.3 139.6h0M402.0 147.7h0M419.1 146.7h0M464.1 144.9h0M506.2 144.0h0M436.8 139.8h0M432.8 143.3h0M503.9 141.1h0M406.5 143.5h0M331.5 137.8h0M346.6 143.8h0M491.1 145.8h0M469.6 147.6h0M387.4 147.2h0M446.0 138.1h0M442.3 139.1h0M367.4 143.1h0M348.5 147.9h0M359.7 141.5h0M419.1 139.3h0M348.7 147.4h0M344.4 146.7h0M332.8 145.0h0M437.4 139.1h0M454.8 138.8h0M352.9 140.0h0M438.2 145.0h0M377.6 144.5h0M396.1 141.7h0M426.3 146.0h0M463.6 147.3h0M452.2 141.9h0M328.6 146.8h0M358.7 142.1h0M437.9 143.5h0M410.3 140.6h0M474.2 144.7h0M330.0 147.6h0M439.8 146.9h0M498.6 139.3h0M408.2 146.7h0M474.4 146.0h0M488.8 144.7h0M399.3 145.9h0M444.1 141.4h0M373.0 147.3h0M384.2 144.9h0M419.5 147.4h0M464.8 140.4h0M405.2 145.4h0M409.9 146.9h0M410.5 144.1h0M428.3 147.0h0M434.2 147.3h0M436.1 139.2h0M448.3 146.7h0M476.7 148.2h0M482.9 145.7h0M381.6 141.2h0M386.0 144.6h0M476.1 142.8h0M347.2 142.5h0M392.0 142.7h0M491.0 143.8h0M470.1 147.7h0M378.0 138.0h0M360.3 139.4h0M431.6 143.5h0M366.1 147.9h0M445.3 142.4h0M394.9 138.2h0M395.0 145.0h0M362.5 143.4h0M473.2 138.5h0M446.9 141.4h0M396.8 147.6h0M416.7 140.5h0M429.7 141.0h0M363.6 144.0h0M346.8 145.6h0M421.8 142.1h0M496.2 143.1h0M338.9 144.4h0M348.7 141.9h0M409.9 146.6h0M385.5 144.6h0M342.7 146.5h0M497.1 140.2h0M487.6 138.2h0M327.7 139.8h0M324.5 137.8h0M454.4 148.0h0M422.3 144.4h0M400.0 147.6h0M331.3 138.2h0M474.9 145.9h0M489.1 146.3h0M467.8 146.3h0M490.0 142.6h0M335.4 146.9h0M324.2 143.7h0M374.6 148.0h0M418.1 144.8h0M491.1 144.5h0M407.5 138.1h0M428.1 144.4h0M403.4 142.0h0M442.0 142.7h0M346.5 148.2h0M452.5 144.3h0M427.7 144.3h0M408.3 146.1h0M363.3 136.3h0M473.9 148.2h0M378.5 134.1h0M423.6 141.6h0M368.4 145.2h0M478.6 141.9h0M425.2 144.2h0M497.9 146.2h0M415.8 142.9h0M443.0 147.8h0M432.9 144.2h0M499.9 146.3h0M436.2 143.6h0M389.6 146.6h0M350.0 142.0h0M398.0 137.9h0M471.4 138.9h0M427.8 142.1h0M466.9 143.9h0M445.6 148.1h0M406.5 138.5h0M389.6 141.1h0M355.8 146.7h0M337.8 144.8h0M491.8 147.7h0M326.4 143.8h0M454.2 145.5h0M410.9 134.4h0M483.8 142.9h0M364.0 147.1h0M378.7 145.0h0M456.4 146.0h0M415.5 146.4h0M478.3 147.5h0M367.5 143.3h0M364.3 146.4h0M481.5 143.6h0M352.7 144.0h0M389.5 146.8h0M451.6 141.0h0M436.0 147.7h0M361.6 148.3h0M338.4 147.4h0M357.0 139.8h0M324.9 146.9h0M427.9 147.5h0M499.0 140.2h0M484.5 138.3h0M334.6 143.9h0M336.7 145.4h0M469.8 148.2h0M486.6 144.6h0M346.1 144.1h0M359.4 145.4h0M466.9 146.5h0M436.6 140.2h0M441.5 147.6h0M492.4 147.5h0M342.0 145.5h0M492.3 136.3h0M435.8 138.3h0M457.6 143.1h0M326.7 142.2h0M455.2 142.8h0M348.1 132.6h0M447.3 145.9h0M334.7 138.3h0M344.1 139.3h0M387.7 147.6h0M378.2 139.3h0M421.4 138.7h0M428.0 147.3h0M384.5 146.9h0M403.3 142.0h0M476.1 138.7h0M443.0 146.9h0M498.6 148.1h0M448.8 144.6h0M463.6 146.1h0M422.2 147.9h0M476.2 147.5h0M444.6 141.3h0M421.7 143.7h0M366.7 144.7h0M342.6 145.4h0M395.3 140.9h0M370.6 145.4h0M364.6 138.3h0M494.3 147.6h0M350.7 145.8h0M401.3 144.6h0M449.6 147.5h0M323.3 146.4h0M380.6 146.1h0M371.9 146.5h0M418.1 146.8h0M399.5 139.7h0M463.8 147.6h0M471.0 142.9h0M419.8 145.6h0M336.2 138.7h0M485.8 147.7h0M477.0 144.0h0M440.4 146.6h0M472.7 132.1h0M402.6 139.6h0M416.2 147.6h0M335.9 147.7h0M417.7 143.8h0M363.4 148.1h0M426.2 145.2h0M378.6 143.2h0M468.4 137.5h0M428.5 145.6h0M369.9 146.2h0M327.7 144.8h0M490.2 140.5h0M358.8 145.9h0M498.9 144.1h0M356.8 145.1h0M501.9 141.7h0M484.7 145.6h0M399.8 145.0h0M448.2 141.5h0M377.5 147.0h0M468.0 139.9h0M500.7 148.2h0M390.3 144.1h0M462.3 138.5h0M489.6 142.7h0M341.9 146.7h0M455.4 142.5h0M485.9 148.2h0M369.9 142.8h0M493.8 147.9h0M445.0 141.9h0M398.6 139.2h0M489.0 143.2h0M329.1 146.4h0M367.6 141.8h0M447.9 139.0h0M323.1 144.9h0M441.5 141.5h0M484.0 147.4h0M467.7 147.6h0M413.4 146.7h0M375.1 140.0h0M426.9 145.9h0M465.4 117.4h0M330.8 147.7h0M410.2 142.5h0M388.1 144.4h0M506.1 142.1h0M341.2 142.1h0M365.8 147.4h0M407.8 143.9h0M350.8 145.1h0M442.8 146.8h0M385.1 147.3h0M431.2 145.6h0M323.3 148.1h0M344.1 140.4h0M495.0 147.4h0M477.2 147.5h0M343.5 142.7h0M438.1 142.8h0M459.6 138.9h0M491.8 148.0h0M454.2 143.3h0M372.2 141.8h0M464.4 141.0h0M338.9 148.1h0M324.1 142.0h0M503.7 142.1h0M430.7 134.5h0M473.2 147.9h0M487.1 140.8h0M481.9 146.8h0M400.6 140.8h0M505.4 142.3h0M483.4 142.8h0M364.3 146.0h0M412.3 145.6h0M472.3 144.5h0M456.3 141.3h0M483.7 146.2h0M441.3 148.1h0M444.1 144.8h0M344.9 140.9h0M485.4 142.8h0M484.7 147.6h0M449.8 142.8h0M373.8 144.9h0M402.5 143.9h0M348.0 147.9h0M361.0 138.7h0M369.7 147.5h0M414.5 147.8h0M402.6 139.6h0M341.9 148.3h0M361.3 140.0h0M495.4 143.9h0M419.2 138.3h0M497.5 144.7h0M420.0 143.4h0M473.7 144.1h0M475.5 147.0h0M436.2 143.2h0M345.8 145.5h0M466.9 142.5h0M438.3 138.1h0M432.3 147.9h0M368.9 138.3h0M452.2 140.2h0M362.0 146.9h0M334.3 145.7h0M434.1 142.7h0M399.5 143.4h0M368.2 140.1h0M385.9 143.8h0M408.5 146.7h0M323.7 142.8h0M458.6 146.2h0M401.3 139.4h0M374.6 135.9h0M369.7 147.1h0M441.5 138.4h0M339.9 146.6h0M492.0 147.5h0M447.1 138.5h0M474.1 143.8h0M424.1 147.1h0M427.0 142.7h0M425.0 144.9h0M395.6 145.4h0M342.6 140.7h0M448.3 144.7h0M406.0 147.1h0M491.3 148.2h0M414.4 142.3h0M486.0 139.9h0M324.6 147.1h0M327.8 134.4h0M443.8 146.3h0M368.5 140.2h0M372.3 146.1h0M371.6 148.3h0M327.0 140.4h0M427.7 143.6h0M486.2 148.2h0M341.8 147.5h0M380.0 138.0h0M500.2 144.6h0M398.9 144.2h0M349.3 140.1h0M396.6 140.1h0M491.0 146.4h0M486.4 146.1h0M448.5 132.2h0M392.2 146.3h0M377.8 138.8h0M439.5 147.7h0M357.0 146.6h0M471.1 146.8h0M496.1 143.7h0M420.2 140.8h0M479.9 145.8h0M412.3 142.2h0M465.2 138.5h0M406.8 144.6h0M420.3 139.3h0M432.6 146.0h0M347.4 142.1h0M448.4 148.1h0M465.9 141.7h0M419.0 135.4h0M430.2 143.3h0M470.2 140.5h0M379.8 146.4h0M429.0 143.4h0M456.6 145.7h0M483.3 148.2h0M424.6 144.8h0M433.0 140.5h0M382.5 142.3h0M448.9 144.1h0M471.7 140.4h0M353.7 141.8h0M406.5 147.8h0M332.4 147.7h0M451.0 145.0h0M400.4 140.1h0M439.0 147.3h0M425.8 141.2h0M362.7 145.2h0M374.5 140.8h0M415.6 139.9h0M327.9 145.5h0M367.8 147.2h0M398.2 147.3h0M379.9 143.7h0M438.4 135.7h0M384.0 147.9h0M350.3 141.7h0M432.1 144.7h0M413.5 140.7h0M459.7 144.1h0M451.0 144.0h0M502.6 146.3h0M476.4 142.6h0M432.0 143.4h0M407.2 146.1h0M459.1 145.3h0M350.2 147.4h0M361.8 144.6h0M396.7 147.6h0M392.3 148.2h0M398.9 140.6h0M378.0 147.5h0M361.4 147.5h0M330.3 148.1h0M457.3 145.3h0M384.3 141.3h0M367.5 137.9h0M367.1 144.4h0M421.0 141.4h0M418.6 140.0h0M366.9 144.0h0M432.1 147.8h0M393.4 144.0h0M367.7 135.3h0M441.5 147.2h0M411.0 146.8h0M403.4 145.7h0M436.2 138.8h0M477.0 147.9h0M327.3 146.1h0M345.1 140.5h0M360.9 146.6h0M438.3 142.0h0M348.9 147.5h0M334.6 137.9h0M324.2 147.0h0M352.4 145.3h0M338.8 144.2h0M353.7 144.8h0M462.5 141.2h0M450.7 147.5h0M497.4 147.8h0M492.4 139.1h0M361.2 143.6h0M423.8 142.1h0M389.5 145.4h0M349.6 145.3h0M423.2 146.3h0M371.6 148.2h0M399.5 139.4h0M345.6 140.1h0M398.0 147.1h0M413.9 146.0h0M335.9 144.1h0M476.6 146.9h0M444.3 145.1h0M371.3 139.6h0M473.5 141.0h0M328.9 148.3h0M405.7 148.2h0M473.6 141.1h0M500.5 142.9h0M440.2 140.6h0M466.8 140.2h0M350.4 138.8h0M363.1 145.7h0M457.0 148.0h0M369.1 139.1h0M426.7 145.0h0M415.0 139.4h0M386.6 145.4h0M369.5 144.8h0M434.9 144.3h0M464.4 141.6h0M425.1 146.7h0M404.2 146.9h0M469.0 147.2h0M423.3 145.8h0M373.2 145.5h0M453.5 143.2h0M375.5 139.9h0M448.2 144.7h0M425.8 142.4h0M505.8 144.1h0M345.2 142.8h0M451.1 147.1h0M342.3 145.3h0M486.0 139.0h0M433.5 144.3h0M498.1 133.9h0M399.4 146.8h0M406.8 141.6h0M408.4 146.3h0M324.6 141.9h0M367.4 147.4h0M489.1 138.4h0M435.7 147.4h0M484.9 147.7h0M429.4 139.3h0M481.9 142.5h0M394.2 147.9h0M342.5 141.0h0M377.0 148.0h0M383.6 139.0h0M449.8 142.7h0M451.7 147.3h0M462.3 142.1h0M414.1 139.7h0M469.9 139.5h0M422.2 140.4h0M484.7 144.5h0M372.7 143.3h0M403.3 141.9h0M358.6 145.9h0M397.8 142.5h0M447.9 141.5h0M387.2 142.4h0M394.5 141.1h0M488.2 138.8h0M332.5 144.8h0M440.4 141.2h0M360.3 144.7h0M399.7 138.5h0M417.4 147.4h0M420.6 143.5h0M498.8 145.1h0M483.0 134.3h0M344.1 147.1h0M371.9 140.1h0M431.7 143.9h0M379.6 146.7h0M497.4 147.5h0M478.6 143.2h0M369.8 140.1h0M451.8 148.1h0M383.8 144.6h0M504.1 141.3h0M443.7 140.9h0M362.3 138.0h0M353.5 145.1h0M479.9 147.3h0M391.8 143.2h0M328.0 147.0h0M329.5 141.8h0M434.5 148.2h0M456.0 148.3h0M425.9 144.0h0M453.4 144.7h0M455.2 142.4h0M333.3 146.4h0M402.4 142.4h0M356.9 146.3h0M414.0 147.0h0M504.2 146.7h0M470.4 144.7h0M344.1 138.0h0M412.8 147.2h0M390.0 139.7h0M324.4 135.5h0M359.5 147.0h0M327.7 143.4h0M485.2 147.0h0M401.8 148.1h0M394.2 148.0h0M501.9 128.1h0M432.3 140.6h0M350.3 139.9h0M421.6 147.5h0M481.3 145.5h0M431.9 147.8h0M374.3 147.2h0M395.3 137.9h0M467.6 137.9h0M485.8 147.8h0M454.7 146.2h0M324.6 138.6h0M448.1 141.5h0M372.6 145.8h0M493.3 141.7h0M483.2 143.4h0M496.5 145.7h0M370.8 139.1h0M383.1 147.7h0M455.2 146.1h0M351.2 140.9h0M397.8 145.1h0M421.4 138.7h0M384.3 144.6h0M407.2 147.2h0M423.6 141.2h0M481.1 142.1h0M466.4 138.2h0M470.0 142.6h0M496.9 146.1h0M484.3 141.5h0M377.7 148.0h0M375.3 142.0h0M472.3 147.2h0M419.3 147.2h0M451.2 145.8h0M422.8 145.3h0M358.3 148.0h0M457.6 145.5h0M438.2 143.8h0M430.7 147.5h0M500.0 147.5h0M490.3 139.7h0M362.2 140.4h0M425.7 140.8h0M439.8 140.6h0M489.0 139.5h0M389.4 141.7h0M381.5 142.0h0M360.8 139.3h0M417.8 140.2h0M356.6 139.0h0M463.5 148.2h0M368.6 138.0h0M362.3 141.3h0M466.5 143.4h0M486.4 148.1h0M476.5 137.9h0M429.6 146.4h0M481.3 142.9h0M333.8 139.7h0M436.0 145.0h0M425.1 147.5h0M395.1 143.0h0M490.3 143.9h0M440.0 140.6h0M473.2 145.1h0M402.4 148.0h0M345.8 142.5h0M398.0 148.3h0M351.0 148.0h0M479.2 140.2h0M364.7 140.6h0M418.2 143.8h0M368.0 145.9h0M428.2 144.4h0M488.3 141.3h0M497.1 148.2h0M376.1 139.8h0M349.6 147.5h0M359.9 139.1h0M368.8 140.5h0M370.5 144.0h0M452.8 146.5h0M346.8 147.3h0M369.6 138.4h0M389.5 145.4h0M406.8 144.9h0M424.0 145.4h0M406.0 139.1h0M472.7 138.6h0M378.6 144.0h0M341.6 138.5h0M344.7 146.2h0M369.1 147.7h0M384.3 146.9h0M458.8 140.8h0M455.1 144.1h0M364.4 143.6h0M386.3 147.8h0M339.0 143.2h0M458.6 146.3h0M337.5 147.5h0M467.2 139.0h0M403.5 142.2h0M342.5 144.7h0M449.8 146.0h0M350.6 145.0h0M493.8 143.0h0M400.3 147.9h0M447.6 146.7h0M461.5 139.2h0M422.3 145.6h0M347.4 146.6h0M424.0 141.6h0M469.0 145.3h0M447.1 138.2h0M489.2 140.2h0M368.0 143.9h0M323.1 145.0h0M442.0 145.4h0M495.5 143.6h0M446.9 147.3h0M397.2 144.1h0M423.9 145.9h0M472.7 144.4h0M332.1 147.7h0M361.2 137.9h0M387.3 147.6h0M399.8 146.6h0M400.5 147.1h0M343.2 140.8h0M409.3 144.9h0M449.5 145.3h0M456.2 137.9h0M408.6 143.9h0M482.3 144.4h0M425.4 148.2h0M455.1 141.4h0M495.4 148.2h0M373.8 139.1h0M402.6 140.9h0M457.8 144.5h0M464.1 147.4h0M329.9 144.4h0M482.8 147.8h0M373.0 145.1h0M467.5 148.2h0M369.1 146.5h0M394.4 147.3h0M413.2 138.4h0M447.3 147.7h0M372.0 137.9h0M377.3 148.1h0M351.4 143.7h0M430.0 147.5h0M432.8 138.1h0M399.2 146.5h0M453.3 146.9h0M474.5 146.4h0M340.4 147.1h0M505.0 143.7h0M405.6 145.2h0M339.2 147.5h0M434.7 138.8h0M473.5 140.3h0M396.1 144.5h0M475.5 143.9h0M488.7 138.6h0M412.5 146.5h0M381.6 145.2h0M324.4 147.1h0M505.3 141.2h0M463.2 143.1h0M456.7 139.1h0M477.8 138.2h0M428.7 145.9h0M437.4 145.7h0M409.9 139.4h0M345.5 143.7h0M423.4 144.3h0M346.7 140.6h0M326.5 143.9h0M473.9 145.4h0M416.8 145.2h0M467.0 147.4h0M492.1 142.9h0M447.0 145.2h0M334.1 147.8h0M422.1 147.9h0M389.1 146.1h0M497.8 147.8h0M329.6 144.5h0M328.1 138.7h0M370.5 143.3h0M355.0 148.2h0M403.4 147.5h0M407.2 146.9h0M351.5 138.3h0M500.2 148.2h0M411.8 147.2h0M504.9 146.1h0M337.2 143.4h0M376.1 141.2h0M414.4 147.7h0M481.0 144.9h0M449.5 145.4h0M460.4 140.3h0M409.9 143.3h0M437.7 142.7h0M407.1 143.9h0M390.3 138.0h0M381.9 148.3h0M376.7 145.5h0M448.6 143.7h0M497.4 147.4h0M438.3 142.2h0M488.8 139.8h0M428.0 147.2h0M374.8 147.4h0M465.6 140.6h0M371.8 134.7h0M330.7 141.9h0M407.9 143.7h0M452.3 147.1h0M422.7 147.0h0M384.6 145.1h0M370.5 147.9h0M352.5 146.8h0M481.2 145.5h0M439.5 140.9h0M501.6 145.1h0M491.5 140.8h0M497.9 142.2h0M342.8 138.5h0M339.0 147.2h0M351.6 138.3h0M434.9 140.2h0M443.9 146.7h0M420.6 146.8h0M492.2 144.2h0M396.3 145.3h0M452.8 145.0h0M333.8 142.0h0M436.9 147.9h0M419.8 140.0h0M480.5 140.7h0M405.9 144.2h0M481.6 138.5h0M491.8 138.1h0M470.2 143.3h0M454.4 140.4h0M366.4 146.1h0M323.2 142.5h0M367.0 143.2h0M463.4 145.8h0M443.9 143.4h0M472.4 139.5h0M474.4 144.9h0M373.8 147.7h0M475.6 147.8h0M348.3 145.5h0M436.6 146.6h0M410.4 143.6h0M393.1 138.0h0M388.8 144.5h0M453.9 140.2h0M505.0 140.9h0M332.4 141.5h0M352.0 141.5h0M491.6 146.9h0M360.2 143.7h0M502.9 143.5h0M347.1 146.6h0M375.5 143.6h0M428.6 147.3h0M453.3 142.3h0M382.6 147.7h0M407.1 143.0h0M413.4 143.2h0M506.0 142.1h0M459.7 147.6h0M370.3 142.3h0M382.4 146.0h0M370.8 146.7h0M460.0 143.2h0M428.9 138.5h0M483.1 143.2h0M337.4 143.9h0M433.5 139.2h0M413.4 139.8h0M370.0 142.8h0M345.2 148.1h0M466.6 146.4h0M409.0 145.7h0M385.0 146.2h0M451.3 147.5h0M341.1 145.7h0M480.7 142.8h0M369.9 144.1h0M460.5 138.0h0M497.2 146.4h0M358.7 140.7h0M443.0 146.6h0M499.6 147.9h0M428.0 138.9h0M344.3 147.6h0M440.4 148.2h0M355.1 141.4h0M504.4 146.1h0M449.6 142.6h0M479.4 146.1h0M389.8 142.6h0M445.1 141.1h0M366.0 146.3h0M400.4 139.9h0M426.9 145.5h0M334.3 143.6h0M358.4 148.2h0M480.2 147.9h0M497.5 146.6h0M402.8 148.1h0M472.9 142.3h0M331.5 141.3h0M421.7 146.2h0M340.2 146.7h0M366.2 146.8h0M397.7 141.2h0M376.9 145.0h0M455.0 146.6h0M448.0 139.7h0M455.3 146.6h0M352.8 147.5h0M484.1 139.5h0M336.7 140.2h0M336.9 146.3h0M426.6 146.4h0M484.2 147.8h0M338.1 146.8h0M374.9 145.7h0M496.0 143.7h0M438.2 145.7h0M438.7 146.0h0M480.5 143.3h0M491.6 147.5h0M506.0 147.4h0M472.3 138.0h0M345.9 146.8h0M330.1 140.6h0M490.8 144.1h0M401.3 145.0h0M336.3 146.4h0M490.8 147.0h0M497.7 141.9h0M343.6 138.0h0M458.2 141.9h0M475.8 139.1h0M455.9 146.4h0M468.0 148.1h0M404.8 140.2h0M471.7 144.0h0M459.9 147.8h0M325.9 148.2h0M338.5 148.3h0M492.0 147.8h0M414.7 140.9h0M481.8 138.5h0M335.5 146.4h0M354.4 140.2h0M382.5 139.1h0M394.7 147.3h0M389.1 141.9h0M390.6 144.4h0M333.9 142.9h0M430.4 142.1h0M420.8 147.9h0M445.4 141.9h0M444.3 142.3h0M448.4 139.0h0M375.4 144.0h0M489.6 146.2h0M396.3 137.4h0M405.5 146.1h0M446.9 146.7h0M474.1 141.5h0M457.0 147.0h0M500.5 146.7h0M343.4 144.2h0M502.5 147.7h0M325.1 140.1h0M388.9 145.9h0M375.1 148.3h0M425.2 146.8h0M412.9 145.9h0M358.4 148.3h0M365.6 147.9h0M330.8 141.9h0M419.7 141.5h0M458.0 141.1h0M386.4 146.9h0M323.1 142.4h0M477.6 141.4h0M433.1 144.3h0M343.2 143.4h0M330.8 141.4h0M333.5 129.9h0M412.6 148.3h0M463.6 147.4h0M335.4 140.3h0M382.0 141.6h0M356.4 147.3h0M470.2 139.1h0M402.6 144.4h0M404.1 146.9h0M325.8 147.2h0M351.0 144.0h0M365.8 146.9h0M491.0 148.2h0M477.1 148.1h0M436.7 146.3h0M448.7 147.0h0M437.0 146.9h0M476.3 141.7h0M421.0 145.4h0M453.1 139.5h0M420.2 140.7h0M415.5 143.3h0M369.8 141.1h0M488.4 145.6h0M447.2 144.5h0M337.4 143.9h0M359.9 143.0h0M400.0 147.5h0M490.1 145.5h0M485.4 137.9h0M467.5 135.2h0M450.7 143.1h0M411.4 138.0h0M503.3 139.9h0M323.7 144.1h0M366.7 148.2h0M477.2 146.7h0M327.9 147.6h0M497.8 146.9h0M454.3 143.1h0M362.1 140.1h0M485.9 137.3h0M365.8 146.3h0M360.6 143.6h0M369.2 144.8h0M429.8 142.6h0M374.8 146.5h0M497.9 147.3h0M390.5 147.5h0M440.8 146.7h0M376.6 138.5h0M345.8 140.3h0M459.1 147.1h0M357.9 145.9h0M448.9 142.8h0M327.2 147.7h0M481.8 145.1h0M347.2 141.8h0M470.1 142.5h0M358.1 138.2h0M402.7 145.2h0M380.6 148.1h0M441.1 141.3h0M334.0 145.7h0M444.8 144.1h0M412.9 146.0h0M458.3 144.9h0M406.5 142.6h0M448.0 133.5h0M348.2 142.9h0M346.1 147.0h0M395.9 147.8h0M451.9 147.3h0M352.5 141.1h0M344.5 138.4h0M371.0 142.7h0M477.9 147.9h0M400.8 147.4h0M470.5 141.9h0M371.8 145.0h0M395.7 142.2h0M408.8 146.8h0M432.9 141.0h0M368.5 145.4h0M441.0 140.7h0M400.0 139.8h0M346.7 136.1h0M364.9 139.4h0M330.8 145.7h0M411.0 144.8h0M487.1 144.7h0M347.8 146.8h0M388.5 143.4h0M437.1 148.2h0M412.7 140.4h0M441.8 145.5h0M328.9 138.6h0M395.4 145.8h0M326.9 147.8h0M471.3 147.5h0M363.2 147.1h0M376.6 144.8h0M332.8 146.3h0M505.5 141.8h0M481.4 140.9h0M371.7 147.0h0M478.7 147.0h0M370.4 145.5h0M433.1 138.7h0M437.1 145.4h0M428.5 140.8h0M460.3 142.2h0M458.0 147.5h0M436.0 141.1h0M325.6 148.0h0M326.4 145.4h0M346.2 139.5h0M435.8 139.1h0M502.0 138.2h0M434.8 148.1h0M352.7 147.5h0M486.8 137.7h0M441.4 140.5h0M328.7 145.3h0M466.2 147.3h0M346.8 144.8h0M419.6 138.2h0M433.2 142.5h0M506.3 147.8h0M369.9 138.9h0M422.5 141.5h0M496.6 146.8h0M430.7 142.1h0M381.7 144.4h0M458.7 141.3h0M493.4 146.2h0M369.6 142.4h0M418.7 144.1h0M365.4 145.2h0M450.5 146.4h0M327.9 142.6h0M439.8 145.7h0M446.4 142.5h0M417.9 143.0h0M347.3 145.2h0M356.7 139.0h0M477.0 140.2h0M454.2 146.6h0M376.2 147.6h0M430.4 141.8h0M328.9 144.1h0M424.3 141.3h0M361.2 147.5h0M413.8 138.1h0M366.2 147.8h0M490.2 143.6h0M339.9 147.3h0M398.4 148.0h0M340.2 143.8h0M362.4 140.2h0M408.6 141.2h0M450.7 139.6h0M461.4 145.0h0M356.7 142.9h0M435.7 143.2h0M451.1 144.1h0M491.0 143.8h0M324.7 147.9h0M487.3 140.9h0M432.9 143.4h0M472.3 140.8h0M346.4 144.2h0M333.1 143.5h0M419.7 142.2h0M368.8 145.0h0M470.6 144.7h0M386.2 139.1h0M335.0 147.5h0M461.6 143.5h0M429.1 142.9h0M435.0 147.3h0M412.9 147.8h0M468.0 141.1h0M369.5 136.5h0M337.0 141.0h0M369.8 144.9h0M451.1 144.3h0M356.5 148.0h0M442.4 147.4h0M328.5 140.4h0M493.8 139.2h0M460.4 148.0h0M478.1 144.4h0M387.9 147.3h0M423.7 146.3h0M335.4 145.6h0M493.6 147.0h0M414.9 147.8h0M433.3 138.7h0M348.1 143.6h0M460.2 143.6h0M490.8 140.8h0M398.5 140.6h0M329.9 143.8h0M461.7 148.1h0M448.8 142.5h0M485.7 144.9h0M457.4 139.0h0M327.9 148.1h0M486.4 143.3h0M378.9 134.8h0M351.0 147.3h0M465.6 145.5h0M362.9 147.4h0M486.0 147.8h0M501.0 143.0h0M456.4 146.4h0M380.6 141.9h0M354.5 141.9h0M412.4 147.4h0M370.3 146.2h0M379.0 140.5h0M429.2 147.1h0M336.3 147.4h0M438.5 147.7h0M446.5 148.1h0M443.1 146.5h0M405.5 143.2h0M481.1 140.4h0M382.7 145.9h0M369.0 138.5h0M337.7 146.9h0M396.2 144.8h0M441.1 148.0h0M385.6 139.5h0M447.6 145.0h0M335.5 139.7h0M496.4 148.1h0M490.1 142.1h0M339.9 143.2h0M426.0 146.4h0M386.4 147.3h0M461.0 142.0h0M468.3 144.0h0M417.0 139.1h0M462.0 146.4h0M480.3 144.4h0M364.4 147.3h0M380.4 142.3h0M437.3 139.2h0M500.2 147.1h0M462.4 147.8h0M396.8 144.5h0M332.9 143.7h0M490.6 135.2h0M375.8 140.5h0M405.0 143.8h0M380.3 148.1h0M498.7 144.6h0M347.7 148.0h0M416.1 139.9h0M416.9 146.7h0M409.3 148.2h0M342.4 146.8h0M480.2 147.2h0M422.4 147.1h0M448.9 148.3h0M433.9 142.3h0M348.8 146.3h0M468.4 147.0h0M359.1 143.4h0M502.8 147.0h0M470.5 138.1h0M485.5 145.0h0M369.0 140.2h0M390.1 148.1h0M330.9 146.0h0M391.0 138.1h0M470.6 146.7h0M346.1 138.8h0M411.3 138.9h0M485.8 140.2h0M355.6 146.7h0M445.6 145.0h0M462.3 140.6h0M456.7 148.1h0M377.0 148.0h0M326.9 148.3h0M504.5 145.5h0M427.9 147.4h0M366.0 143.7h0M344.7 147.8h0M403.4 145.9h0M480.3 147.3h0M443.4 144.2h0M441.6 145.0h0M391.4 147.7h0M503.3 145.5h0M361.1 140.3h0M384.2 144.0h0M351.5 148.1h0M452.9 142.6h0M334.8 148.3h0M469.2 138.2h0M342.6 146.6h0M444.6 147.1h0M453.5 148.1h0M396.6 140.9h0M426.1 147.5h0M408.2 143.9h0M480.7 139.8h0M380.0 146.4h0M483.8 144.7h0M390.2 144.6h0M482.4 141.9h0M392.9 141.1h0M349.4 143.2h0M492.7 147.2h0M429.3 140.4h0M424.1 148.1h0M382.4 144.0h0M364.5 139.7h0M407.1 146.5h0M336.3 140.4h0M485.1 139.8h0M493.3 145.3h0M347.6 146.3h0M439.3 144.9h0M327.4 147.5h0M410.5 143.9h0M385.1 147.7h0M444.4 137.8h0M372.3 146.7h0M455.4 139.2h0M464.7 140.1h0M392.5 147.9h0M345.2 144.2h0M489.0 138.0h0M355.6 143.1h0M401.3 139.5h0M455.3 148.1h0M461.5 139.5h0M380.6 144.9h0M497.5 140.7h0M506.2 143.5h0M335.5 146.1h0M505.4 148.3h0M491.6 148.3h0M435.4 142.7h0M504.4 145.7h0M419.1 147.5h0M481.9 148.2h0M504.3 147.2h0M432.1 146.7h0M375.1 141.4h0M423.5 140.6h0M353.5 142.5h0M418.1 145.7h0M435.2 146.7h0M462.8 138.8h0M367.9 144.8h0M353.5 146.1h0M332.4 143.6h0M339.6 141.9h0M470.3 148.1h0M391.9 146.0h0M501.3 142.1h0M370.4 139.4h0M446.8 144.9h0M332.9 147.7h0M363.1 142.3h0M432.7 141.4h0M336.8 145.7h0M460.8 146.5h0M454.0 140.2h0M353.2 140.5h0M348.3 144.7h0M404.6 140.4h0M326.7 145.4h0M439.1 143.5h0M400.8 148.2h0M363.3 148.1h0M342.5 142.8h0M496.2 143.8h0M346.9 147.0h0M442.6 138.8h0M446.0 138.4h0M392.7 134.2h0M410.8 142.4h0M334.1 140.4h0M476.7 143.4h0M402.3 148.0h0M383.8 143.3h0M369.2 141.3h0M494.7 142.7h0M395.1 138.1h0M444.6 138.2h0M413.7 142.4h0M501.9 143.5h0M482.3 148.1h0M394.5 138.4h0M355.6 145.9h0M356.6 139.6h0M412.6 138.5h0M408.4 140.6h0M350.9 148.0h0M425.5 147.1h0M388.7 143.0h0M465.3 138.5h0M418.1 147.4h0M459.3 140.6h0M495.9 144.9h0M455.2 138.1h0M391.4 142.2h0M472.7 147.1h0M399.1 146.3h0M335.7 146.2h0M426.6 143.6h0M491.9 145.8h0M327.3 139.6h0M478.6 147.4h0M346.0 141.0h0M483.2 147.0h0M400.0 140.9h0M479.0 138.1h0M443.1 144.6h0M452.4 139.1h0M377.3 145.4h0M418.5 146.3h0M407.0 141.7h0M432.5 147.9h0M404.0 139.6h0M440.4 146.3h0M347.2 146.2h0M447.2 139.3h0M416.1 144.1h0M489.7 145.6h0M480.5 144.4h0M474.9 146.7h0M429.7 146.3h0M323.6 139.1h0M433.6 145.5h0M506.0 141.6h0M352.0 143.7h0M331.9 147.4h0M413.1 141.6h0M362.5 139.5h0M504.1 139.1h0M335.0 147.8h0M354.3 145.1h0M406.7 135.2h0M471.3 139.8h0M500.0 144.4h0M506.1 138.6h0M465.6 145.9h0M382.7 146.7h0M345.4 141.1h0M331.4 141.6h0M406.2 147.6h0M406.4 148.0h0M492.5 138.3h0M378.7 143.7h0M396.9 144.1h0M414.4 145.0h0M356.6 148.1h0M343.8 143.4h0M337.6 143.3h0M411.5 145.5h0M327.3 145.5h0M488.5 146.7h0M444.7 147.6h0M426.2 142.8h0M404.8 138.9h0M411.0 140.4h0M493.3 147.3h0M502.7 140.6h0M502.6 144.8h0M359.5 144.9h0M441.6 144.1h0M424.3 146.2h0M459.9 147.8h0M440.1 139.1h0M402.8 147.1h0M449.9 143.7h0M469.1 143.9h0M371.2 138.0h0M469.8 148.2h0M363.2 146.5h0M498.6 145.3h0M340.6 142.4h0M465.8 144.7h0M491.4 147.8h0M379.1 139.2h0M475.8 146.0h0M475.0 139.3h0M391.3 144.6h0M474.1 139.3h0M327.2 146.3h0M499.4 145.5h0M408.9 139.9h0M340.9 141.4h0M340.3 142.2h0M343.0 141.8h0M336.2 140.2h0M337.8 141.3h0M334.5 141.4h0M364.0 137.3h0M350.6 137.6h0M359.4 136.4h0M360.9 136.8h0M361.0 136.9h0M337.1 137.1h0M322.9 139.1h0M347.6 139.7h0M354.1 140.3h0M322.9 141.3h0M342.6 141.3h0M338.3 140.5h0M332.0 140.3h0M333.9 140.1h0M332.6 139.7h0M361.2 137.8h0M361.0 138.8h0M362.3 139.2h0M334.4 140.2h0M339.9 138.9h0M339.2 138.9h0M339.8 139.7h0M341.1 140.3h0M364.2 140.2h0M363.5 140.3h0M362.3 140.9h0M361.6 140.7h0M364.0 140.5h0M368.7 137.8h0M351.5 138.9h0M350.8 137.7h0M324.2 141.5h0M325.0 140.8h0M322.8 140.7h0M383.7 127.9h0M383.0 128.7h0M407.9 128.8h0M375.8 124.0h0M375.7 124.6h0M374.4 123.4h0M429.0 116.4h0M426.3 117.1h0M425.8 116.1h0M427.2 116.3h0M378.2 124.5h0M377.2 125.3h0M413.9 110.7h0M413.2 112.2h0M398.0 119.3h0M398.2 118.1h0M397.3 118.3h0M416.1 131.9h0M415.5 131.0h0M386.8 113.8h0M387.9 115.1h0M416.5 114.2h0M416.0 114.4h0M422.3 111.5h0M424.0 111.3h0M416.8 125.1h0M415.0 125.6h0M416.5 125.0h0M417.7 125.1h0M372.8 119.1h0M372.8 117.9h0M372.4 118.9h0M369.3 119.1h0M396.7 117.5h0M411.1 125.3h0M410.8 125.1h0M411.1 125.0h0M408.1 130.7h0M395.1 117.1h0M384.5 127.6h0M387.2 133.2h0M388.8 134.3h0M389.1 134.0h0M408.3 121.0h0M409.6 120.8h0M398.9 132.4h0M377.0 120.1h0M377.8 120.1h0M377.4 121.4h0M395.3 137.9h0M395.3 137.3h0M394.8 134.8h0M388.3 132.1h0M406.0 133.5h0M405.4 134.5h0M405.9 133.7h0M404.1 134.3h0M394.6 135.8h0M378.0 118.4h0M378.6 120.8h0M379.1 120.1h0M378.8 120.3h0M408.7 122.4h0M409.7 123.7h0M388.0 134.6h0M385.9 134.2h0M387.6 133.9h0M389.4 134.9h0M396.8 133.3h0M386.2 136.0h0M388.1 135.5h0M388.0 134.9h0M387.2 136.3h0M410.9 131.5h0M409.4 130.9h0M409.6 131.8h0M384.8 133.6h0M385.9 134.4h0M383.4 133.9h0M381.8 134.5h0M396.6 129.6h0M391.4 131.6h0M389.8 132.8h0M387.7 132.6h0M399.3 127.2h0M395.3 131.5h0M396.9 130.6h0M398.8 130.5h0M408.0 127.9h0M407.2 128.0h0M408.8 127.7h0M406.0 128.7h0M395.0 116.7h0M397.5 117.6h0M383.9 130.6h0M387.9 130.1h0M387.3 131.0h0M379.5 137.0h0M377.0 136.1h0M386.3 136.3h0M369.6 135.9h0M370.4 135.0h0M367.9 135.3h0M376.2 133.5h0M375.2 133.5h0M376.1 132.2h0M366.8 137.7h0M367.4 139.4h0M376.4 138.9h0M376.0 138.2h0M377.9 138.9h0M378.2 138.0h0M380.8 136.4h0M378.3 135.6h0M396.3 130.1h0M394.7 130.0h0M397.5 134.5h0M396.6 134.9h0M394.6 135.0h0M395.0 135.1h0M397.5 135.0h0M398.6 134.7h0M394.5 134.0h0M395.4 131.4h0M392.7 132.5h0M394.2 133.2h0M467.5 135.9h0M449.8 136.2h0M450.4 136.9h0M450.9 135.9h0M432.3 131.5h0M433.1 131.2h0M435.0 136.5h0M434.8 135.2h0M448.1 133.6h0M433.0 137.7h0M433.6 137.0h0M440.7 136.6h0M481.8 130.1h0M481.6 131.1h0M480.6 129.1h0M500.2 137.6h0M501.1 136.5h0M501.9 136.4h0M502.3 136.1h0M487.6 137.2h0M489.6 136.6h0M502.9 131.6h0M504.0 130.3h0M503.5 130.4h0M488.0 130.4h0M482.1 136.0h0M474.0 132.9h0M476.4 134.0h0M503.4 130.3h0M504.2 130.9h0M477.3 137.1h0M479.4 138.6h0M487.8 131.1h0M486.7 130.5h0M486.9 130.5h0M486.4 130.3h0M504.8 132.3h0M506.1 131.9h0M504.7 130.9h0M480.1 137.2h0M479.8 137.9h0M481.8 139.6h0M481.9 138.8h0M340.9 130.3h0M339.5 130.3h0M342.1 130.3h0M340.9 135.9h0M341.4 137.0h0M342.2 136.8h0M327.0 116.4h0M324.4 125.1h0M329.6 126.1h0M324.4 130.3h0M329.0 130.3h0M376.3 109.4h0M426.2 111.6h0M446.9 111.2h0M463.8 115.5h0M414.5 117.7h0M416.5 119.0h0M419.7 118.3h0M421.7 121.6h0M423.6 122.8h0M425.5 118.3h0M428.1 124.1h0M436.6 124.8h0M456.6 126.1h0M418.4 127.4h0M428.1 130.6h0M432.0 128.7h0M434.0 129.3h0M421.7 133.9h0M458.6 132.6h0M460.5 133.9h0M462.5 131.9h0M464.4 133.2h0M467.0 131.9h0M468.9 133.9h0M499.0 112.3h0M499.0 119.7h0M457.0 126.5h0M489.0 128.2h0M380.4 113.0h0M394.0 110.4h0M402.2 113.1h0M375.8 122.1h0M376.7 122.9h0M377.5 123.8h0M382.3 121.2h0M383.2 122.1h0M384.0 120.8h0M384.9 120.3h0M387.9 115.1h0M388.8 117.3h0M389.7 118.2h0M390.5 118.6h0M391.0 119.5h0M390.1 116.9h0M392.2 116.0h0M392.7 117.3h0M393.5 113.4h0M394.8 113.8h0M396.1 114.3h0M395.7 117.7h0M396.6 118.6h0M397.9 117.3h0M399.2 116.9h0M400.0 117.7h0M404.8 116.9h0M405.7 117.7h0M406.5 116.9h0M403.0 120.8h0M404.4 121.2h0M395.3 120.3h0M392.7 121.2h0M381.0 125.1h0M381.9 126.0h0M382.7 126.8h0M382.3 128.5h0M383.2 129.8h0M385.3 125.1h0M386.6 126.0h0M387.5 126.0h0M388.8 125.5h0M390.1 126.0h0M391.4 126.8h0M392.2 127.7h0M386.6 128.5h0M387.5 129.8h0M395.7 126.0h0M397.0 127.7h0M398.3 128.5h0M399.2 127.2h0M399.6 129.8h0M403.0 126.0h0M404.4 125.1h0M405.2 126.0h0M406.5 125.1h0M407.8 126.0h0M403.0 128.5h0M462.9 131.8h0M464.9 132.7h0M466.8 132.2h0M468.3 131.3h0M479.0 131.8h0M480.4 133.2h0M481.4 134.2h0M486.8 133.7h0M485.3 135.2h0M495.0 132.7h0M495.0 134.2h0M502.8 133.2h0M500.4 134.7h0M487.7 129.8h0M350.8 124.5h0M351.6 125.8h0M352.5 126.6h0M353.4 125.3h0M354.7 124.0h0M356.0 123.6h0M351.2 127.1h0M352.9 127.9h0M358.5 123.2h0M360.3 123.6h0M352.1 131.0h0M353.4 131.8h0M352.9 133.1h0M354.2 133.5h0M353.8 134.8h0M355.1 135.7h0M356.0 136.6h0M356.8 129.2h0M357.7 130.1h0M357.2 131.4h0M358.1 132.2h0M357.7 133.5h0M359.8 130.1h0M362.9 132.7h0M363.7 134.0h0M364.6 134.8h0M365.5 133.5h0M366.3 134.8h0M367.2 135.7h0M368.1 136.6h0M369.4 127.1h0M370.7 128.4h0M372.0 129.2h0M373.3 129.7h0M369.4 117.5h0M371.5 119.7h0M373.3 121.0h0M370.7 110.4h0M346.9 110.9h0M352.9 116.9h0M355.8 116.5h0M362.9 118.8h0M342.1 121.0h0M352.1 121.0h0M335.9 122.7h0M332.2 127.5h0M346.0 130.5h0M341.2 137.4h0M331.0 135.5h0M333.0 136.5h0M334.5 135.8h0M330.5 137.0h0M349.5 125.0h0M355.5 125.0h0M350.0 128.8h0M355.0 129.5h0" stroke="#000080" stroke-width="1.9" stroke-linecap="round"/>
<path d="M451.8 138.6h0M500.5 138.2h0M460.0 146.9h0M328.3 146.3h0M390.9 144.1h0M326.6 138.5h0M357.6 148.0h0M360.4 145.9h0M492.3 147.9h0M387.0 141.7h0M419.4 146.1h0M344.4 145.9h0M468.5 147.0h0M331.6 147.9h0M341.4 141.6h0M434.9 147.6h0M386.2 147.7h0M423.1 141.3h0M382.0 139.9h0M339.1 139.6h0M345.8 121.0h0M336.8 130.0h0M336.8 133.3h0M347.8 136.8h0M486.4 124.8h0M501.1 128.7h0M470.8 127.9h0M487.0 125.0h0M471.2 129.8h0M489.2 128.3h0M490.6 136.6h0M373.7 122.5h0M373.7 128.5h0M407.4 113.8h0M330.0 143.0h0M345.0 145.0h0M360.0 142.0h0M378.0 146.0h0M392.0 143.0h0M455.0 144.0h0M470.0 146.0h0M482.0 143.0h0M497.0 145.0h0M503.0 141.0h0M350.0 147.0h0M385.0 140.0h0" stroke="#808080" stroke-width="1.9" stroke-linecap="round"/>
<path d="M429.9 129.2h0M455.8 127.3h0M432.9 129.7h0M415.2 128.2h0M439.6 133.9h0M410.2 124.1h0M410.0 134.2h0M443.1 118.8h0M459.0 137.3h0M441.0 130.3h0M413.7 118.3h0M434.1 119.2h0M415.5 122.8h0M406.7 127.3h0M429.2 134.8h0M433.6 130.8h0M432.5 131.2h0M430.2 123.6h0M459.9 137.9h0M451.2 132.2h0M422.3 122.6h0M420.9 119.4h0M447.1 126.0h0M451.6 125.7h0M457.7 134.9h0M405.0 122.2h0M455.1 127.4h0M458.9 125.9h0M409.0 130.6h0M447.8 123.4h0M440.9 144.9h0M447.8 147.3h0M445.6 147.1h0M417.2 141.6h0M453.7 143.8h0M452.0 137.4h0M434.8 139.0h0M437.8 142.9h0M416.5 138.6h0M427.2 147.0h0M446.6 137.9h0M447.9 137.7h0M440.7 137.5h0M416.1 146.5h0M424.4 138.6h0M455.3 146.5h0M427.6 147.5h0M437.6 144.1h0M424.2 147.3h0M443.6 147.6h0M451.7 139.6h0M430.4 138.0h0M421.8 136.8h0M428.1 143.2h0M416.1 144.1h0M429.5 139.7h0M448.7 141.8h0M428.6 141.8h0M401.7 88.3h0M421.3 93.2h0M403.7 96.7h0M408.1 99.8h0M401.7 102.5h0M404.4 103.6h0M408.7 102.1h0M411.0 103.8h0M413.3 104.4h0M415.6 104.4h0M417.9 106.2h0M411.3 106.7h0M405.2 106.2h0M404.0 108.5h0M385.0 103.8h0M385.6 105.2h0M387.9 107.3h0M395.5 125.5h0M396.8 126.5h0M398.0 127.5h0M399.0 128.5h0M399.0 131.5h0M404.4 130.9h0M409.2 128.5h0M412.8 129.7h0M416.3 126.1h0M422.3 133.3h0M427.0 135.6h0M428.8 117.8h0M410.6 104.0h0M413.2 104.7h0M415.8 104.7h0M417.8 106.4h0M414.5 109.9h0M428.1 116.4h0M429.4 118.3h0M439.1 122.2h0M434.6 122.8h0M450.8 122.8h0M430.1 126.1h0M432.7 126.7h0M435.9 127.4h0M437.8 126.7h0M439.8 129.6h0M441.7 129.8h0M443.6 129.5h0M445.6 129.9h0M447.5 129.6h0M449.5 129.8h0M454.0 129.7h0M416.5 126.1h0M421.7 128.7h0M425.5 132.6h0M428.1 133.9h0M430.7 133.9h0M448.9 136.5h0M451.5 137.7h0M450.1 122.7h0M451.0 127.0h0M439.7 121.8h0M376.2 109.1h0M381.4 109.5h0M394.8 124.2h0M396.1 125.1h0M397.9 126.8h0M397.0 129.4h0M398.7 130.7h0M400.5 120.8h0M401.3 122.5h0M403.0 130.3h0M404.4 132.0h0M405.2 133.3h0M428.0 139.0h0M431.0 141.0h0M434.0 140.0h0M437.0 142.0h0M440.0 139.5h0M426.0 143.0h0M432.0 145.0h0M438.0 144.0h0M444.0 141.0h0M447.0 143.0h0M420.0 140.0h0M423.0 144.0h0M413.0 141.0h0M416.0 145.0h0M442.0 146.0h0M452.0 140.0h0" stroke="#87cefa" stroke-width="1.7" stroke-linecap="round"/>
<path d="M408.2 118.4h0M410.4 122.3h0" stroke="#ffa500" stroke-width="1.9" stroke-linecap="round"/>
<path d="M405.4 128.5h0M406.2 129.1h0M428.0 143.3h0" stroke="#00ee00" stroke-width="1.9" stroke-linecap="round"/>
<path d="M410.4 82.5h0M404.6 81.7h0M405.8 85.2h0M406.9 86.3h0M406.3 89.8h0" stroke="#ff0000" stroke-width="1.9" stroke-linecap="round"/>
<path d="M409.2 79.2l1.8 1.8l-1.8 1.8l-1.8 -1.8z" fill="#9400d3"/>
<g transform="translate(0,0)">
<text x="75.2" y="14.8" font-size="10" textLength="110.5" lengthAdjust="spacingAndGlyphs">TET2 +/−500kb UKB urate</text>
<text x="7.9" y="18.8" font-size="7.3" textLength="23.9" lengthAdjust="spacingAndGlyphs">Plotted</text>
<text x="11.2" y="27.8" font-size="7.3" textLength="17.3" lengthAdjust="spacingAndGlyphs">SNPs</text>
<rect x="40" y="19.1" width="180.6" height="4.2" fill="#000"/>
<path d="M53.4 19.1v4.2M58.7 19.1v4.2M63.5 19.1v4.2M69.7 19.1v4.2M72.1 19.1v4.2M75.0 19.1v4.2M80.3 19.1v4.2M83.2 19.1v4.2M88.8 19.1v4.2M94.6 19.1v4.2M104.2 19.1v4.2M118.6 19.1v4.2M128.5 19.1v4.2M152.5 19.1v4.2M196.0 19.1v4.2M201.0 19.1v4.2M207.0 19.1v4.2" stroke="#666" stroke-width="0.3"/>
<text x="111.4" y="44.7" font-size="7.2" textLength="34.4" lengthAdjust="spacingAndGlyphs" fill="#222">rs2903386</text>
<text transform="translate(14.2,107.8) rotate(-90)" font-size="8.8" fill="#222">-log</text>
<text transform="translate(15.0,93.2) rotate(-90)" font-size="5.2" fill="#222">10</text>
<text transform="translate(14.2,85.8) rotate(-90)" font-size="8.8" fill="#222">(<tspan font-style="italic">P</tspan>)</text>
<path d="M32.6 29V153.3H228.5M32.6 156.5V196.6H228.5" fill="none" stroke="#000" stroke-width="1.2"/>
<path d="M29.6 43.8H32.7M29.6 70.1H32.7M29.6 96.3H32.7M29.6 122.6H32.7M29.6 148.9H32.7" stroke="#444" stroke-width="0.8"/>
<text x="26.6" y="46.8" font-size="8.6" text-anchor="end" textLength="4.4" lengthAdjust="spacingAndGlyphs">8</text>
<text x="26.6" y="73.1" font-size="8.6" text-anchor="end" textLength="4.4" lengthAdjust="spacingAndGlyphs">6</text>
<text x="26.6" y="99.3" font-size="8.6" text-anchor="end" textLength="4.4" lengthAdjust="spacingAndGlyphs">4</text>
<text x="26.6" y="125.6" font-size="8.6" text-anchor="end" textLength="4.4" lengthAdjust="spacingAndGlyphs">2</text>
<text x="26.6" y="151.9" font-size="8.6" text-anchor="end" textLength="4.4" lengthAdjust="spacingAndGlyphs">0</text>
<path d="M45.2 196.6V199.6M77.1 196.6V199.6M109.0 196.6V199.6M140.9 196.6V199.6M172.8 196.6V199.6M204.7 196.6V199.6" stroke="#000" stroke-width="1"/>
<text x="45.2" y="207.7" font-size="6.4" text-anchor="middle" textLength="28.5" lengthAdjust="spacingAndGlyphs">105600000</text>
<text x="77.1" y="207.7" font-size="6.4" text-anchor="middle" textLength="28.5" lengthAdjust="spacingAndGlyphs">105800000</text>
<text x="109.0" y="207.7" font-size="6.4" text-anchor="middle" textLength="28.5" lengthAdjust="spacingAndGlyphs">106000000</text>
<text x="140.9" y="207.7" font-size="6.4" text-anchor="middle" textLength="28.5" lengthAdjust="spacingAndGlyphs">106200000</text>
<text x="172.8" y="207.7" font-size="6.4" text-anchor="middle" textLength="28.5" lengthAdjust="spacingAndGlyphs">106400000</text>
<text x="204.7" y="207.7" font-size="6.4" text-anchor="middle" textLength="28.5" lengthAdjust="spacingAndGlyphs">106600000</text>
<text x="88.9" y="221.2" font-size="9.8" textLength="88" lengthAdjust="spacingAndGlyphs">Position on chromosome 4</text>
<path d="M33.2 53.1H228.5" stroke="#d44860" stroke-width="1.1" stroke-dasharray="4.2 2.12" stroke-dashoffset="2.72"/>
<path d="M33.2 70.1H228.5" stroke="#3a6ea3" stroke-width="1.1" stroke-dasharray="4.2 2.12" stroke-dashoffset="2.72"/>
<path d="M119.2 163.4H141.2M154.6 174.9H172.3M204.7 163.2H227.9M209 174.9H227.9M184.1 186.3H210" stroke="#777" stroke-width="0.9"/>
<text x="124.3" y="170.3" font-size="5.3" textLength="12.6" lengthAdjust="spacingAndGlyphs" font-style="italic" fill="#333">TET2</text>
<text x="157.2" y="182.1" font-size="5.3" textLength="12.8" lengthAdjust="spacingAndGlyphs" font-style="italic" fill="#333">PPA2</text>
<text x="208" y="161.3" font-size="5.3" textLength="17.2" lengthAdjust="spacingAndGlyphs" font-style="italic" fill="#333">INTS12</text>
<text x="209.7" y="172.8" font-size="5.3" textLength="17.9" lengthAdjust="spacingAndGlyphs" font-style="italic" fill="#333">GSTCD</text>
<text x="183.5" y="193.6" font-size="5.3" textLength="27.5" lengthAdjust="spacingAndGlyphs" font-style="italic" fill="#333">ARHGEF38</text>
<text x="35.8" y="238.6" font-size="8">r<tspan font-size="5.4" dy="-3.4">2</tspan></text>
<rect x="48.4" y="233.2" width="4.3" height="4.1" fill="#ff0000"/>
<text x="55.6" y="237.8" font-size="7.6" textLength="10.3" lengthAdjust="spacingAndGlyphs">1.0</text>
<rect x="76.5" y="233.2" width="4.3" height="4.1" fill="#ffa500"/>
<text x="83.2" y="237.8" font-size="7.6" textLength="10.3" lengthAdjust="spacingAndGlyphs">0.8</text>
<rect x="104" y="233.2" width="4.3" height="4.1" fill="#00ee00"/>
<text x="111" y="237.8" font-size="7.6" textLength="10.3" lengthAdjust="spacingAndGlyphs">0.6</text>
<rect x="131.7" y="233.2" width="4.3" height="4.1" fill="#87cefa"/>
<text x="139" y="237.8" font-size="7.6" textLength="10.3" lengthAdjust="spacingAndGlyphs">0.4</text>
<rect x="159.2" y="233.2" width="4.3" height="4.1" fill="#000080"/>
<text x="166.7" y="237.8" font-size="7.6" textLength="10.3" lengthAdjust="spacingAndGlyphs">0.2</text>
<rect x="186.8" y="233.2" width="4.3" height="4.1" fill="#808080"/>
<text x="193.6" y="237.8" font-size="7.6" textLength="30.3" lengthAdjust="spacingAndGlyphs">Unknown</text>
</g>
<g transform="translate(283.5,0)">
<text x="68.0" y="14.8" font-size="10" textLength="125.4" lengthAdjust="spacingAndGlyphs">TET2 +/−500kb Tin EUR urate</text>
<text x="7.9" y="18.8" font-size="7.3" textLength="23.9" lengthAdjust="spacingAndGlyphs">Plotted</text>
<text x="11.2" y="27.8" font-size="7.3" textLength="17.3" lengthAdjust="spacingAndGlyphs">SNPs</text>
<rect x="40" y="19.1" width="181.4" height="4.2" fill="#000"/>
<path d="M67.6 19.1v4.2M89.5 19.1v4.2M118.8 19.1v4.2M155.0 19.1v4.2M207.1 19.1v4.2" stroke="#666" stroke-width="0.3"/>
<text x="106.69999999999999" y="78.5" font-size="7.2" textLength="34" lengthAdjust="spacingAndGlyphs" fill="#222">rs2903386</text>
<text transform="translate(14.2,107.8) rotate(-90)" font-size="8.8" fill="#222">-log</text>
<text transform="translate(15.0,93.2) rotate(-90)" font-size="5.2" fill="#222">10</text>
<text transform="translate(14.2,85.8) rotate(-90)" font-size="8.8" fill="#222">(<tspan font-style="italic">P</tspan>)</text>
<path d="M32.6 29V153.3H228.5M32.6 156.5V196.6H228.5" fill="none" stroke="#000" stroke-width="1.2"/>
<path d="M29.6 43.8H32.7M29.6 70.1H32.7M29.6 96.3H32.7M29.6 122.6H32.7M29.6 148.9H32.7" stroke="#444" stroke-width="0.8"/>
<text x="26.6" y="46.8" font-size="8.6" text-anchor="end" textLength="4.4" lengthAdjust="spacingAndGlyphs">8</text>
<text x="26.6" y="73.1" font-size="8.6" text-anchor="end" textLength="4.4" lengthAdjust="spacingAndGlyphs">6</text>
<text x="26.6" y="99.3" font-size="8.6" text-anchor="end" textLength="4.4" lengthAdjust="spacingAndGlyphs">4</text>
<text x="26.6" y="125.6" font-size="8.6" text-anchor="end" textLength="4.4" lengthAdjust="spacingAndGlyphs">2</text>
<text x="26.6" y="151.9" font-size="8.6" text-anchor="end" textLength="4.4" lengthAdjust="spacingAndGlyphs">0</text>
<path d="M45.2 196.6V199.6M77.1 196.6V199.6M109.0 196.6V199.6M140.9 196.6V199.6M172.8 196.6V199.6M204.7 196.6V199.6" stroke="#000" stroke-width="1"/>
<text x="45.2" y="207.7" font-size="6.4" text-anchor="middle" textLength="28.5" lengthAdjust="spacingAndGlyphs">105600000</text>
<text x="77.1" y="207.7" font-size="6.4" text-anchor="middle" textLength="28.5" lengthAdjust="spacingAndGlyphs">105800000</text>
<text x="109.0" y="207.7" font-size="6.4" text-anchor="middle" textLength="28.5" lengthAdjust="spacingAndGlyphs">106000000</text>
<text x="140.9" y="207.7" font-size="6.4" text-anchor="middle" textLength="28.5" lengthAdjust="spacingAndGlyphs">106200000</text>
<text x="172.8" y="207.7" font-size="6.4" text-anchor="middle" textLength="28.5" lengthAdjust="spacingAndGlyphs">106400000</text>
<text x="204.7" y="207.7" font-size="6.4" text-anchor="middle" textLength="28.5" lengthAdjust="spacingAndGlyphs">106600000</text>
<text x="88.9" y="221.2" font-size="9.8" textLength="88" lengthAdjust="spacingAndGlyphs">Position on chromosome 4</text>
<path d="M33.2 53.1H228.5" stroke="#d44860" stroke-width="1.1" stroke-dasharray="4.2 2.12" stroke-dashoffset="2.72"/>
<path d="M33.2 70.1H228.5" stroke="#3a6ea3" stroke-width="1.1" stroke-dasharray="4.2 2.12" stroke-dashoffset="2.72"/>
<path d="M119.2 163.4H141.2M154.6 174.9H172.3M204.7 163.2H227.9M209 174.9H227.9M184.1 186.3H210" stroke="#777" stroke-width="0.9"/>
<text x="124.3" y="170.3" font-size="5.3" textLength="12.6" lengthAdjust="spacingAndGlyphs" font-style="italic" fill="#333">TET2</text>
<text x="157.2" y="182.1" font-size="5.3" textLength="12.8" lengthAdjust="spacingAndGlyphs" font-style="italic" fill="#333">PPA2</text>
<text x="208" y="161.3" font-size="5.3" textLength="17.2" lengthAdjust="spacingAndGlyphs" font-style="italic" fill="#333">INTS12</text>
<text x="209.7" y="172.8" font-size="5.3" textLength="17.9" lengthAdjust="spacingAndGlyphs" font-style="italic" fill="#333">GSTCD</text>
<text x="183.5" y="193.6" font-size="5.3" textLength="27.5" lengthAdjust="spacingAndGlyphs" font-style="italic" fill="#333">ARHGEF38</text>
<text x="35.8" y="238.6" font-size="8">r<tspan font-size="5.4" dy="-3.4">2</tspan></text>
<rect x="48.4" y="233.2" width="4.3" height="4.1" fill="#ff0000"/>
<text x="55.6" y="237.8" font-size="7.6" textLength="10.3" lengthAdjust="spacingAndGlyphs">1.0</text>
<rect x="76.5" y="233.2" width="4.3" height="4.1" fill="#ffa500"/>
<text x="83.2" y="237.8" font-size="7.6" textLength="10.3" lengthAdjust="spacingAndGlyphs">0.8</text>
<rect x="104" y="233.2" width="4.3" height="4.1" fill="#00ee00"/>
<text x="111" y="237.8" font-size="7.6" textLength="10.3" lengthAdjust="spacingAndGlyphs">0.6</text>
<rect x="131.7" y="233.2" width="4.3" height="4.1" fill="#87cefa"/>
<text x="139" y="237.8" font-size="7.6" textLength="10.3" lengthAdjust="spacingAndGlyphs">0.4</text>
<rect x="159.2" y="233.2" width="4.3" height="4.1" fill="#000080"/>
<text x="166.7" y="237.8" font-size="7.6" textLength="10.3" lengthAdjust="spacingAndGlyphs">0.2</text>
<rect x="186.8" y="233.2" width="4.3" height="4.1" fill="#808080"/>
<text x="193.6" y="237.8" font-size="7.6" textLength="30.3" lengthAdjust="spacingAndGlyphs">Unknown</text>
</g>
<g>
<path d="M181.7 272.8V427.2H369.2" fill="none" stroke="#333" stroke-width="1.2"/>
<path d="M179.2 304.7H181.7M179.2 346.6H181.7M179.2 388.4H181.7" stroke="#333" stroke-width="1"/>
<text x="175.7" y="307.7" font-size="8.4" text-anchor="end" textLength="15.3" lengthAdjust="spacingAndGlyphs">0.86</text>
<text x="175.7" y="349.6" font-size="8.4" text-anchor="end" textLength="15.3" lengthAdjust="spacingAndGlyphs">0.84</text>
<text x="175.7" y="391.4" font-size="8.4" text-anchor="end" textLength="15.3" lengthAdjust="spacingAndGlyphs">0.82</text>
<path d="M233.4 427.2V430.3M320.4 427.2V430.3" stroke="#333" stroke-width="1"/>
<text x="220" y="440" font-size="8.4" textLength="26.9" lengthAdjust="spacingAndGlyphs">Control</text>
<text x="305" y="440" font-size="8.4" textLength="30.8" lengthAdjust="spacingAndGlyphs">Uric acid</text>
<text x="253.8" y="453.5" font-size="10.2" textLength="43.3" lengthAdjust="spacingAndGlyphs">cg19862213</text>
<text transform="translate(154,367.3) rotate(-90)" font-size="9.2" textLength="34.3" lengthAdjust="spacingAndGlyphs">Beta value</text>
<text x="255.6" y="273.5" font-size="10.4" textLength="40.2" lengthAdjust="spacingAndGlyphs" font-style="italic">DNMT3A</text>
<text x="247.7" y="291.3" font-size="7.9" textLength="55.4" lengthAdjust="spacingAndGlyphs">p-value = 0.005</text>
<path d="M233.8 379.5V396.3" stroke="#333" stroke-width="1"/>
<rect x="203.3" y="365.4" width="61" height="14" fill="#df879a" stroke="#d8758b" stroke-width="0.6"/>
<path d="M203.3 375.6H264.4" stroke="#3a1a20" stroke-width="1.6"/>
<path d="M320.4 294V399.7" stroke="#333" stroke-width="1"/>
<rect x="290" y="321.3" width="60.8" height="37" fill="#86a5c5" stroke="#7898bb" stroke-width="0.6"/>
<path d="M290 340.5H350.8" stroke="#111" stroke-width="1.6"/>
<circle cx="219.1" cy="317.3" r="2.3" fill="#c8102e"/>
<circle cx="231.2" cy="339.4" r="2.3" fill="#c8102e"/>
<circle cx="222.7" cy="375.3" r="2.3" fill="#c8102e"/>
<circle cx="232" cy="373.8" r="2.3" fill="#c8102e"/>
<circle cx="233.8" cy="376.6" r="2.3" fill="#c8102e"/>
<circle cx="240.3" cy="377.7" r="2.3" fill="#c8102e"/>
<circle cx="238.2" cy="383.6" r="2.3" fill="#c8102e"/>
<circle cx="238.5" cy="396.3" r="2.3" fill="#c8102e"/>
<circle cx="330.4" cy="294.2" r="2.3" fill="#0d4a8a"/>
<circle cx="320.8" cy="297.6" r="2.3" fill="#0d4a8a"/>
<circle cx="305" cy="314.9" r="2.3" fill="#0d4a8a"/>
<circle cx="333.9" cy="318.7" r="2.3" fill="#0d4a8a"/>
<circle cx="330.4" cy="322.7" r="2.3" fill="#0d4a8a"/>
<circle cx="319.4" cy="324.4" r="2.3" fill="#0d4a8a"/>
<circle cx="325.4" cy="330.3" r="2.3" fill="#0d4a8a"/>
<circle cx="333" cy="338.9" r="2.3" fill="#0d4a8a"/>
<circle cx="316.8" cy="342" r="2.3" fill="#0d4a8a"/>
<circle cx="311.6" cy="349.3" r="2.3" fill="#0d4a8a"/>
<circle cx="337.5" cy="354.6" r="2.3" fill="#0d4a8a"/>
<circle cx="309" cy="357.6" r="2.3" fill="#0d4a8a"/>
<circle cx="320.2" cy="357.6" r="2.3" fill="#0d4a8a"/>
<circle cx="329.2" cy="366.6" r="2.3" fill="#0d4a8a"/>
<circle cx="329.2" cy="399.9" r="2.3" fill="#0d4a8a"/>
<circle cx="337.4" cy="420.4" r="2.3" fill="#0d4a8a"/>
</g>
</svg></body></html>
